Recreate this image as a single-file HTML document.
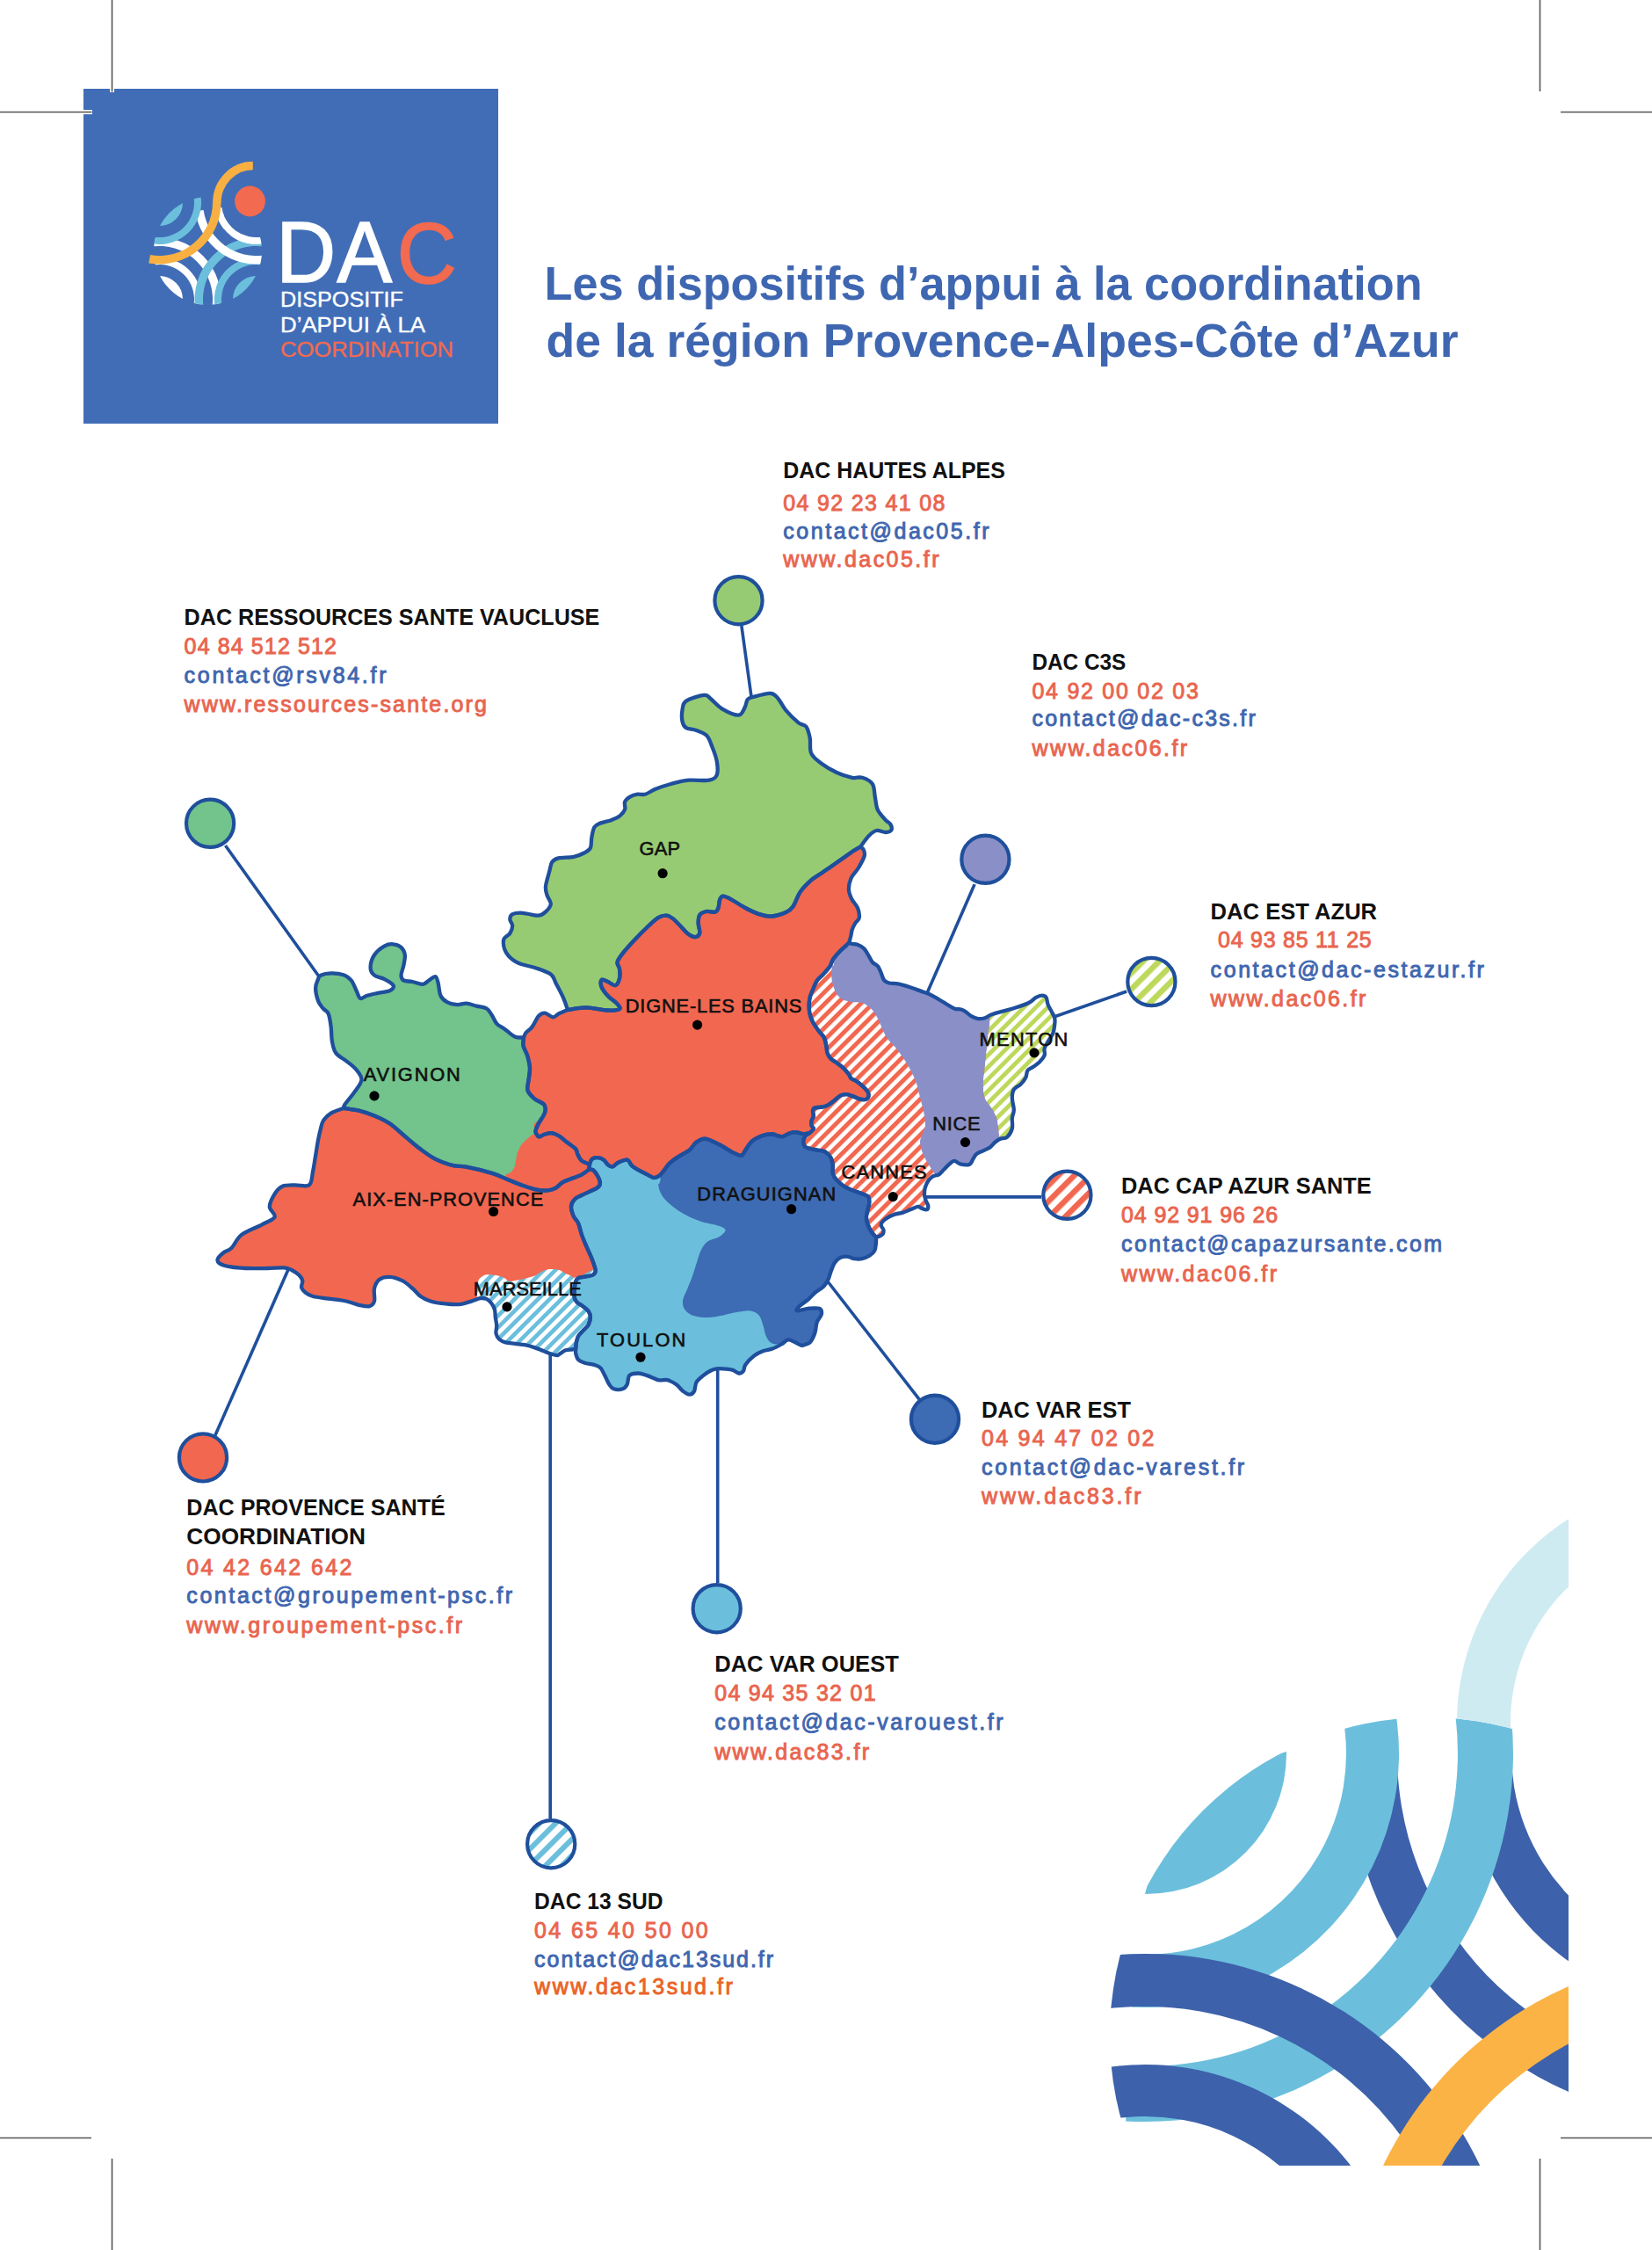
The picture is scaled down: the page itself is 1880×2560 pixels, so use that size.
<!DOCTYPE html>
<html><head><meta charset="utf-8"><title>DAC PACA</title>
<style>
html,body{margin:0;padding:0;background:#fff;}
body{width:1880px;height:2560px;position:relative;overflow:hidden;}
svg{position:absolute;left:0;top:0;}
text{font-family:"Liberation Sans",sans-serif;}
</style></head><body>
<svg width="1880" height="2560" viewBox="0 0 1880 2560">
<defs>
<pattern id="hCoral" patternUnits="userSpaceOnUse" width="9.6" height="9.6" patternTransform="rotate(45)"><rect width="9.6" height="9.6" fill="#fff"/><rect width="5.0" height="9.6" fill="#f26750"/></pattern>
<pattern id="hLime" patternUnits="userSpaceOnUse" width="9.6" height="9.6" patternTransform="rotate(45)"><rect width="9.6" height="9.6" fill="#fff"/><rect width="4.8" height="9.6" fill="#bdd85b"/></pattern>
<pattern id="hBlue" patternUnits="userSpaceOnUse" width="9.4" height="9.4" patternTransform="rotate(45)"><rect width="9.4" height="9.4" fill="#fff"/><rect width="4.7" height="9.4" fill="#6bbfdc"/></pattern>
<pattern id="cCoral" patternUnits="userSpaceOnUse" width="13" height="13" patternTransform="rotate(45)"><rect width="13" height="13" fill="#fff"/><rect width="6.5" height="13" fill="#f26750"/></pattern>
<pattern id="cLime" patternUnits="userSpaceOnUse" width="13" height="13" patternTransform="rotate(45)"><rect width="13" height="13" fill="#fff"/><rect width="6.5" height="13" fill="#bdd85b"/></pattern>
<pattern id="cBlue" patternUnits="userSpaceOnUse" width="13" height="13" patternTransform="rotate(45)"><rect width="13" height="13" fill="#fff"/><rect width="6" height="13" fill="#6bbfdc"/></pattern>

<clipPath id="clipVA"><path d="M391.1 1260.8C391.3 1260.1 390.6 1259.4 392.5 1256.5C394.4 1253.6 399.6 1248.0 402.7 1243.4C405.8 1238.8 410.9 1233.3 411.4 1228.9C411.9 1224.5 408.5 1220.8 405.6 1217.2C402.7 1213.6 397.9 1210.2 394.0 1207.1C390.1 1204.0 385.1 1202.0 382.4 1198.4C379.7 1194.8 379.0 1190.4 378.0 1185.3C377.0 1180.2 377.3 1173.1 376.6 1167.8C375.9 1162.5 375.2 1156.7 373.7 1153.3C372.2 1149.9 369.8 1149.9 367.8 1147.5C365.9 1145.1 363.4 1142.7 362.0 1138.8C360.6 1134.9 359.1 1128.4 359.1 1124.3C359.1 1120.2 361.0 1116.5 362.0 1114.1C363.0 1111.7 362.5 1110.8 364.9 1109.7C367.3 1108.6 372.2 1107.5 376.6 1107.4C381.0 1107.3 387.2 1107.9 391.1 1109.2C395.0 1110.5 397.4 1112.5 399.8 1115.5C402.2 1118.5 403.9 1123.8 405.6 1127.2C407.3 1130.6 408.1 1134.9 410.0 1135.9C411.9 1136.9 414.1 1134.0 417.2 1133.0C420.3 1132.0 424.5 1131.1 428.9 1130.1C433.3 1129.1 440.3 1128.7 443.4 1127.2C446.5 1125.8 448.7 1123.6 447.7 1121.4C446.7 1119.2 441.2 1116.0 437.6 1114.1C434.0 1112.1 428.7 1111.9 426.0 1109.7C423.3 1107.5 421.6 1104.9 421.6 1101.0C421.6 1097.1 423.3 1090.6 426.0 1086.5C428.7 1082.4 434.0 1078.3 437.6 1076.3C441.2 1074.3 444.6 1074.0 447.7 1074.3C450.8 1074.5 454.3 1075.8 456.5 1077.8C458.7 1079.8 460.3 1083.1 460.8 1086.5C461.3 1089.9 460.1 1094.2 459.4 1098.1C458.7 1102.0 456.5 1106.8 456.5 1109.7C456.5 1112.6 457.2 1114.3 459.4 1115.5C461.6 1116.7 465.9 1116.3 469.5 1117.0C473.1 1117.7 477.8 1120.4 481.2 1119.9C484.6 1119.4 487.5 1115.5 489.9 1114.1C492.3 1112.6 494.2 1110.5 495.7 1111.2C497.1 1111.9 497.6 1114.8 498.6 1118.4C499.6 1122.0 499.8 1129.4 501.5 1133.0C503.2 1136.6 505.7 1138.5 508.8 1140.2C511.9 1141.9 516.8 1142.8 520.4 1143.1C524.0 1143.3 527.0 1141.5 530.6 1141.7C534.2 1142.0 538.3 1143.6 542.2 1144.6C546.1 1145.6 550.9 1145.8 553.8 1147.5C556.7 1149.2 557.7 1151.9 559.6 1154.8C561.5 1157.7 563.0 1162.2 565.4 1164.9C567.8 1167.6 570.7 1168.3 574.1 1170.7C577.5 1173.1 582.1 1177.9 585.8 1179.5C589.4 1181.1 594.3 1180.3 596.0 1180.5C595.9 1182.1 594.9 1186.5 595.6 1190.0C596.3 1193.5 599.1 1197.2 600.3 1201.5C601.5 1205.8 602.8 1211.0 603.0 1215.6C603.2 1220.2 601.9 1225.1 601.5 1229.3C601.1 1233.5 599.4 1237.0 600.5 1240.5C601.6 1244.0 604.9 1247.2 608.0 1250.0C611.1 1252.8 617.3 1254.3 619.3 1257.0C621.3 1259.7 621.1 1262.3 620.0 1266.0C618.9 1269.7 614.2 1275.5 612.5 1279.0C610.8 1282.5 609.8 1285.0 609.5 1287.0C609.2 1289.0 610.8 1290.3 611.0 1291.0C611.4 1291.4 612.1 1293.4 613.5 1293.4C614.9 1293.4 616.9 1291.5 619.3 1290.8C621.7 1290.1 625.0 1288.9 627.8 1289.2C630.6 1289.5 633.5 1290.8 636.3 1292.5C639.1 1294.2 641.6 1296.9 644.7 1299.3C647.8 1301.7 652.8 1304.6 654.9 1307.0C657.0 1309.4 656.4 1311.5 657.5 1313.7C658.6 1316.0 659.9 1318.8 661.7 1320.5C663.5 1322.2 667.0 1323.2 668.5 1323.9C670.0 1324.6 670.6 1324.6 671.0 1324.7C670.9 1325.7 670.3 1329.7 670.2 1330.7C668.8 1331.7 664.5 1335.0 661.7 1336.6C658.9 1338.1 656.7 1338.6 653.2 1340.0C649.7 1341.4 644.0 1343.1 640.5 1345.1C637.0 1347.1 634.8 1350.4 632.0 1351.9C629.2 1353.5 627.1 1354.1 623.6 1354.4C620.1 1354.7 615.8 1354.6 610.8 1353.6C605.8 1352.6 599.5 1350.5 593.9 1348.5C588.3 1346.5 582.6 1344.0 577.0 1341.7C571.4 1339.4 567.7 1337.2 560.0 1334.9C552.3 1332.6 537.9 1329.0 530.6 1327.6C523.3 1326.1 521.8 1327.7 516.0 1326.2C510.2 1324.8 502.0 1322.1 495.7 1318.9C489.4 1315.8 484.1 1311.7 478.3 1307.3C472.5 1302.9 466.6 1297.6 460.8 1292.8C455.0 1288.0 449.2 1282.2 443.4 1278.3C437.6 1274.4 431.8 1271.9 426.0 1269.5C420.2 1267.1 414.3 1265.2 408.5 1263.7C402.7 1262.2 394.0 1261.3 391.1 1260.8Z"/></clipPath>
<clipPath id="clipVAR"><path d="M671.0 1324.7C671.4 1323.7 672.1 1320.1 673.6 1318.8C675.1 1317.5 678.0 1316.9 680.3 1317.1C682.5 1317.2 685.1 1318.3 687.1 1319.7C689.1 1321.1 690.5 1324.3 692.2 1325.6C693.9 1326.9 695.5 1327.7 697.3 1327.3C699.1 1326.9 700.3 1324.3 703.0 1323.0C705.7 1321.7 711.1 1319.2 713.7 1319.7C716.3 1320.2 716.7 1324.2 718.8 1326.1C720.9 1328.0 723.4 1329.5 726.4 1331.2C729.4 1332.9 733.6 1334.8 736.6 1336.3C739.6 1337.8 741.7 1340.1 744.2 1340.1C746.8 1340.1 748.9 1339.0 751.9 1336.3C754.9 1333.5 758.6 1327.0 762.0 1323.6C765.4 1320.2 768.4 1318.5 772.2 1315.9C776.0 1313.4 781.5 1311.0 784.9 1308.3C788.3 1305.5 789.5 1301.5 792.5 1299.4C795.5 1297.3 798.5 1295.2 802.7 1295.6C807.0 1296.0 812.9 1299.5 818.0 1302.0C823.1 1304.5 829.0 1308.7 833.2 1310.8C837.4 1312.9 840.9 1315.1 843.4 1314.7C845.9 1314.3 846.4 1311.1 848.5 1308.3C850.6 1305.5 852.7 1300.8 856.1 1298.1C859.5 1295.3 865.0 1293.1 868.8 1291.8C872.6 1290.5 876.2 1290.4 879.0 1290.5C881.8 1290.6 883.8 1292.0 885.8 1292.4C887.8 1292.8 888.8 1293.6 890.9 1293.1C893.0 1292.6 895.8 1290.3 898.2 1289.5C900.6 1288.7 902.6 1288.0 905.4 1288.1C908.2 1288.2 912.3 1290.0 914.9 1290.2C917.5 1290.4 919.7 1289.6 920.7 1289.5C920.0 1290.1 917.4 1291.5 916.3 1293.1C915.2 1294.7 914.1 1297.0 914.1 1299.0C914.1 1301.0 915.0 1303.5 916.3 1304.8C917.6 1306.1 919.8 1306.4 922.1 1307.0C924.4 1307.6 927.3 1308.0 930.0 1308.5C932.7 1309.0 936.0 1308.8 938.5 1310.2C941.0 1311.6 943.8 1314.4 945.3 1316.9C946.8 1319.4 947.4 1322.3 947.8 1325.4C948.2 1328.5 947.1 1332.8 947.8 1335.6C948.5 1338.4 950.0 1340.1 952.0 1342.4C954.0 1344.7 957.0 1347.4 959.7 1349.2C962.4 1351.0 964.9 1352.0 968.1 1353.4C971.4 1354.8 976.0 1356.3 979.2 1357.6C982.5 1358.9 985.9 1359.3 987.6 1361.0C989.3 1362.7 989.3 1365.2 989.3 1367.8C989.3 1370.3 988.2 1373.5 987.6 1376.3C987.0 1379.1 985.9 1381.9 985.9 1384.7C985.9 1387.5 986.6 1390.4 987.6 1393.2C988.6 1396.0 990.3 1399.3 991.9 1401.7C993.5 1404.1 996.1 1406.6 997.0 1407.6C997.0 1408.7 997.2 1411.9 996.9 1414.4C996.6 1417.0 996.6 1420.5 995.3 1422.9C994.0 1425.3 991.7 1427.2 989.3 1428.8C986.9 1430.3 983.6 1431.6 980.8 1432.2C978.0 1432.8 975.2 1432.6 972.4 1432.2C969.6 1431.8 966.7 1429.8 963.9 1429.7C961.1 1429.6 957.8 1430.1 955.4 1431.4C953.0 1432.7 951.2 1434.5 949.5 1437.3C947.8 1440.1 946.3 1445.0 945.1 1448.1C943.9 1451.2 943.8 1453.2 942.5 1455.8C941.2 1458.3 940.0 1460.9 937.5 1463.4C935.0 1465.9 930.3 1468.5 927.3 1471.0C924.3 1473.5 922.7 1476.0 919.7 1478.6C916.7 1481.1 911.6 1484.2 909.5 1486.3C907.4 1488.4 905.3 1491.0 907.0 1491.4C908.7 1491.8 915.5 1489.2 919.7 1488.8C923.9 1488.4 929.9 1487.7 932.4 1488.8C934.9 1489.9 935.3 1492.7 934.9 1495.2C934.5 1497.8 931.1 1500.5 929.8 1504.1C928.5 1507.7 928.6 1513.0 927.3 1516.8C926.0 1520.6 923.9 1524.9 922.2 1527.0C920.5 1529.1 918.8 1528.9 917.1 1529.5C915.4 1530.1 914.1 1531.2 912.0 1530.8C909.9 1530.4 906.9 1528.1 904.4 1527.0C901.9 1525.9 899.3 1524.0 896.8 1524.4C894.3 1524.8 892.2 1527.8 889.2 1529.5C886.2 1531.2 882.4 1533.3 879.0 1534.6C875.6 1535.9 872.2 1535.8 868.8 1537.1C865.4 1538.4 862.0 1539.7 858.6 1542.2C855.2 1544.8 850.6 1549.4 848.5 1552.4C846.4 1555.4 847.2 1558.3 845.9 1560.0C844.6 1561.7 842.9 1562.7 840.8 1562.5C838.7 1562.3 836.2 1559.5 833.2 1558.7C830.2 1557.9 826.0 1557.6 823.0 1557.4C820.0 1557.2 817.9 1557.0 815.4 1557.4C812.9 1557.8 810.3 1558.7 807.8 1560.0C805.3 1561.3 802.8 1563.0 800.2 1565.1C797.7 1567.2 794.2 1569.7 792.5 1572.7C790.8 1575.7 791.3 1580.6 790.0 1582.9C788.7 1585.2 787.0 1586.7 784.9 1586.7C782.8 1586.7 779.8 1584.8 777.3 1582.9C774.8 1581.0 772.7 1577.4 769.7 1575.3C766.7 1573.2 762.9 1571.0 759.5 1570.2C756.1 1569.4 753.1 1571.1 749.3 1570.2C745.5 1569.3 740.4 1566.4 736.6 1565.1C732.8 1563.8 729.8 1562.5 726.4 1562.5C723.0 1562.5 718.4 1563.0 716.3 1565.1C714.2 1567.2 715.0 1572.8 713.7 1575.3C712.4 1577.8 711.1 1579.5 708.6 1580.3C706.1 1581.1 701.0 1581.1 698.5 1580.3C696.0 1579.5 695.1 1577.8 693.4 1575.3C691.7 1572.8 689.9 1568.2 688.3 1565.1C686.6 1561.9 685.5 1558.4 683.5 1556.4C681.5 1554.4 679.3 1553.9 676.3 1552.9C673.3 1552.0 668.4 1551.7 665.4 1550.7C662.4 1549.7 659.8 1548.9 658.1 1547.1C656.4 1545.3 655.7 1542.0 655.2 1539.9C654.7 1537.9 655.2 1535.7 655.2 1534.8C655.3 1533.6 655.4 1529.9 655.9 1527.5C656.4 1525.1 656.8 1522.5 658.1 1520.2C659.4 1517.9 662.0 1515.9 663.9 1513.7C665.8 1511.5 668.4 1509.8 669.7 1507.2C671.0 1504.7 671.9 1501.0 671.9 1498.4C671.9 1495.9 671.2 1494.0 669.7 1491.9C668.2 1489.9 665.4 1487.8 663.2 1486.1C661.0 1484.4 658.3 1483.3 656.7 1481.7C655.1 1480.1 654.3 1479.1 653.8 1476.7C653.3 1474.3 653.6 1470.4 653.8 1467.2C654.0 1464.0 654.5 1460.0 655.2 1457.8C655.9 1455.6 656.4 1454.9 658.1 1454.1C659.8 1453.2 662.6 1453.3 665.4 1452.7C668.2 1452.1 672.8 1451.7 674.8 1450.5C676.8 1449.3 677.9 1448.5 677.7 1445.4C677.5 1442.3 675.2 1436.5 673.5 1432.0C671.8 1427.5 669.4 1423.0 667.5 1418.5C665.6 1414.0 663.6 1409.4 662.0 1404.9C660.4 1400.4 659.6 1395.1 658.0 1391.5C656.4 1387.9 653.9 1386.7 652.6 1383.5C651.3 1380.3 649.8 1375.7 650.0 1372.5C650.2 1369.3 652.0 1366.6 654.0 1364.5C656.0 1362.4 659.0 1361.4 661.7 1360.0C664.4 1358.6 667.1 1357.6 670.2 1356.1C673.3 1354.6 678.2 1352.7 680.3 1351.0C682.4 1349.3 682.9 1348.0 682.9 1345.9C682.9 1343.8 681.6 1340.7 680.3 1338.3C679.0 1335.9 677.0 1332.8 675.3 1331.5C673.6 1330.2 671.1 1330.8 670.2 1330.7C670.3 1329.7 670.9 1325.7 671.0 1324.7Z"/></clipPath>
<clipPath id="clipAM"><path d="M920.7 1289.5C921.6 1288.7 925.3 1285.9 925.8 1284.4C926.3 1283.0 924.0 1282.4 923.6 1280.8C923.2 1279.2 923.2 1276.8 923.6 1275.0C924.0 1273.2 925.6 1271.7 925.8 1269.9C926.0 1268.1 924.8 1265.7 925.0 1264.1C925.2 1262.5 925.6 1261.2 927.2 1260.5C928.8 1259.8 932.1 1260.2 934.5 1259.7C936.9 1259.2 939.3 1258.8 941.7 1257.6C944.1 1256.4 946.6 1254.3 949.0 1252.5C951.4 1250.7 953.9 1247.9 956.3 1246.7C958.7 1245.5 961.1 1245.1 963.5 1245.2C965.9 1245.3 968.4 1246.6 970.8 1247.4C973.2 1248.2 975.8 1249.7 978.1 1250.3C980.4 1250.9 982.9 1251.4 984.6 1251.0C986.3 1250.6 987.7 1249.5 988.2 1248.1C988.7 1246.6 988.6 1244.3 987.5 1242.3C986.4 1240.2 983.9 1237.8 981.7 1235.8C979.5 1233.8 976.6 1231.5 974.4 1230.0C972.2 1228.5 970.0 1228.3 968.6 1227.0C967.2 1225.7 967.2 1223.9 965.7 1222.0C964.2 1220.1 962.1 1217.5 959.9 1215.4C957.7 1213.3 955.0 1211.4 952.6 1209.6C950.2 1207.8 947.2 1206.4 945.4 1204.5C943.5 1202.6 942.3 1200.2 941.5 1198.0C940.7 1195.8 941.1 1193.9 940.5 1191.0C939.9 1188.1 939.3 1183.6 937.9 1180.7C936.5 1177.8 934.3 1176.5 932.1 1173.5C929.9 1170.5 926.7 1166.2 924.9 1162.6C923.1 1159.0 921.8 1155.9 921.2 1151.7C920.6 1147.5 920.6 1141.4 921.2 1137.2C921.8 1133.0 923.4 1129.9 924.9 1126.3C926.4 1122.7 928.0 1118.4 930.0 1115.4C932.0 1112.4 934.8 1110.8 937.2 1108.1C939.6 1105.4 942.7 1102.2 944.5 1099.4C946.3 1096.6 946.3 1094.2 948.1 1091.4C949.9 1088.6 953.0 1085.2 955.4 1082.7C957.8 1080.2 960.8 1077.8 962.6 1076.1C964.4 1074.4 965.7 1073.1 966.3 1072.5C966.9 1072.8 968.3 1073.6 969.9 1074.0C971.5 1074.4 973.5 1073.9 975.7 1074.7C977.9 1075.5 980.8 1076.9 983.0 1079.1C985.2 1081.3 987.1 1085.1 988.8 1087.8C990.5 1090.5 991.4 1093.1 993.1 1095.0C994.8 1096.9 997.4 1097.5 999.0 1099.4C1000.6 1101.4 1001.4 1104.0 1002.6 1106.7C1003.8 1109.4 1004.6 1113.4 1006.2 1115.4C1007.8 1117.4 1009.4 1117.8 1012.0 1118.5C1014.6 1119.2 1018.1 1118.6 1022.0 1119.4C1025.9 1120.2 1031.1 1121.8 1035.6 1123.3C1040.1 1124.8 1046.0 1127.0 1049.2 1128.1C1052.4 1129.2 1052.4 1129.0 1055.0 1130.1C1057.6 1131.2 1061.4 1133.1 1064.6 1134.9C1067.8 1136.7 1070.7 1138.6 1074.3 1140.7C1077.9 1142.8 1082.8 1146.2 1086.0 1147.5C1089.2 1148.8 1091.5 1147.8 1093.7 1148.5C1096.0 1149.2 1097.6 1150.1 1099.5 1151.4C1101.4 1152.7 1103.0 1154.9 1105.3 1156.2C1107.6 1157.5 1110.5 1158.8 1113.1 1159.1C1115.7 1159.4 1118.2 1159.0 1120.8 1158.2C1123.4 1157.4 1125.0 1155.6 1128.6 1154.3C1132.1 1153.0 1137.6 1151.7 1142.1 1150.4C1146.6 1149.1 1150.8 1148.1 1155.7 1146.5C1160.6 1144.9 1167.3 1142.6 1171.2 1140.7C1175.1 1138.8 1176.5 1136.2 1178.9 1134.9C1181.3 1133.6 1183.8 1132.6 1185.7 1132.6C1187.7 1132.6 1189.5 1133.2 1190.6 1134.9C1191.7 1136.6 1191.5 1140.1 1192.5 1142.7C1193.5 1145.3 1195.1 1147.8 1196.4 1150.4C1197.7 1153.0 1199.6 1155.6 1200.2 1158.2C1200.8 1160.8 1200.5 1163.0 1200.2 1165.9C1199.9 1168.8 1199.6 1172.4 1198.3 1175.6C1197.0 1178.8 1194.1 1182.4 1192.5 1185.3C1190.9 1188.2 1189.2 1190.4 1188.6 1193.0C1187.9 1195.6 1189.6 1198.2 1188.6 1200.8C1187.6 1203.4 1185.0 1206.2 1182.8 1208.5C1180.5 1210.8 1177.3 1212.7 1175.1 1214.3C1172.8 1215.9 1170.6 1216.2 1169.3 1218.2C1168.0 1220.2 1168.6 1223.4 1167.3 1226.0C1166.0 1228.6 1163.8 1231.5 1161.5 1233.7C1159.2 1236.0 1155.4 1236.9 1153.8 1239.5C1152.2 1242.1 1151.8 1245.3 1151.8 1249.2C1151.8 1253.1 1153.8 1258.9 1153.8 1262.8C1153.8 1266.7 1152.1 1268.9 1151.8 1272.4C1151.5 1276.0 1152.8 1280.5 1151.8 1284.1C1150.8 1287.7 1148.2 1291.9 1146.0 1293.8C1143.8 1295.7 1140.6 1294.7 1138.3 1295.7C1136.0 1296.7 1134.4 1298.0 1132.4 1299.6C1130.5 1301.2 1128.8 1303.8 1126.6 1305.4C1124.3 1307.0 1121.5 1308.0 1118.9 1309.3C1116.3 1310.6 1113.0 1311.5 1111.1 1313.1C1109.2 1314.7 1108.6 1317.0 1107.3 1318.9C1106.0 1320.8 1105.7 1323.7 1103.4 1324.7C1101.1 1325.7 1096.6 1325.3 1093.7 1324.7C1090.8 1324.1 1088.3 1320.9 1086.0 1320.9C1083.7 1320.9 1082.0 1323.1 1080.1 1324.7C1078.1 1326.3 1076.2 1328.6 1074.3 1330.6C1072.4 1332.5 1070.5 1335.2 1068.5 1336.4C1066.5 1337.7 1064.1 1337.1 1062.2 1338.1C1060.3 1339.1 1058.6 1340.3 1057.1 1342.4C1055.5 1344.5 1053.8 1348.0 1052.9 1350.8C1052.1 1353.6 1051.9 1356.8 1052.0 1359.3C1052.1 1361.8 1053.0 1364.0 1053.7 1366.1C1054.4 1368.2 1056.2 1370.3 1056.3 1372.0C1056.4 1373.7 1055.9 1375.9 1054.6 1376.3C1053.3 1376.7 1050.3 1375.2 1048.6 1374.6C1046.9 1374.0 1046.5 1372.6 1044.4 1372.9C1042.3 1373.2 1038.7 1375.2 1035.9 1376.3C1033.1 1377.4 1030.3 1378.8 1027.5 1379.7C1024.7 1380.6 1022.0 1380.4 1019.0 1381.4C1016.0 1382.4 1012.2 1384.0 1009.7 1385.6C1007.2 1387.1 1004.8 1389.2 1003.7 1390.7C1002.6 1392.2 1002.6 1393.5 1002.9 1394.9C1003.2 1396.3 1005.1 1397.7 1005.4 1399.2C1005.7 1400.8 1005.5 1402.9 1004.6 1404.2C1003.8 1405.5 1001.6 1406.2 1000.3 1406.8C999.0 1407.4 997.5 1407.5 997.0 1407.6C996.1 1406.6 993.5 1404.1 991.9 1401.7C990.3 1399.3 988.6 1396.0 987.6 1393.2C986.6 1390.4 985.9 1387.5 985.9 1384.7C985.9 1381.9 987.0 1379.1 987.6 1376.3C988.2 1373.5 989.3 1370.3 989.3 1367.8C989.3 1365.2 989.3 1362.7 987.6 1361.0C985.9 1359.3 982.5 1358.9 979.2 1357.6C976.0 1356.3 971.4 1354.8 968.1 1353.4C964.9 1352.0 962.4 1351.0 959.7 1349.2C957.0 1347.4 954.0 1344.7 952.0 1342.4C950.0 1340.1 948.5 1338.4 947.8 1335.6C947.1 1332.8 948.2 1328.5 947.8 1325.4C947.4 1322.3 946.8 1319.4 945.3 1316.9C943.8 1314.4 941.0 1311.6 938.5 1310.2C936.0 1308.8 932.7 1309.0 930.0 1308.5C927.3 1308.0 924.4 1307.6 922.1 1307.0C919.8 1306.4 917.6 1306.1 916.3 1304.8C915.0 1303.5 914.1 1301.0 914.1 1299.0C914.1 1297.0 915.2 1294.7 916.3 1293.1C917.4 1291.5 920.0 1290.1 920.7 1289.5Z"/></clipPath>
<clipPath id="clipBDR"><path d="M391.1 1260.8C394.0 1261.3 402.7 1262.2 408.5 1263.7C414.3 1265.2 420.2 1267.1 426.0 1269.5C431.8 1271.9 437.6 1274.4 443.4 1278.3C449.2 1282.2 455.0 1288.0 460.8 1292.8C466.6 1297.6 472.5 1302.9 478.3 1307.3C484.1 1311.7 489.4 1315.8 495.7 1318.9C502.0 1322.1 510.2 1324.8 516.0 1326.2C521.8 1327.7 523.3 1326.1 530.6 1327.6C537.9 1329.0 552.3 1332.6 560.0 1334.9C567.7 1337.2 571.4 1339.4 577.0 1341.7C582.6 1344.0 588.3 1346.5 593.9 1348.5C599.5 1350.5 605.8 1352.6 610.8 1353.6C615.8 1354.6 620.1 1354.7 623.6 1354.4C627.1 1354.1 629.2 1353.5 632.0 1351.9C634.8 1350.4 637.0 1347.1 640.5 1345.1C644.0 1343.1 649.7 1341.4 653.2 1340.0C656.7 1338.6 658.9 1338.1 661.7 1336.6C664.5 1335.0 668.8 1331.7 670.2 1330.7C671.1 1330.8 673.6 1330.2 675.3 1331.5C677.0 1332.8 679.0 1335.9 680.3 1338.3C681.6 1340.7 682.9 1343.8 682.9 1345.9C682.9 1348.0 682.4 1349.3 680.3 1351.0C678.2 1352.7 673.3 1354.6 670.2 1356.1C667.1 1357.6 664.4 1358.6 661.7 1360.0C659.0 1361.4 656.0 1362.4 654.0 1364.5C652.0 1366.6 650.2 1369.3 650.0 1372.5C649.8 1375.7 651.3 1380.3 652.6 1383.5C653.9 1386.7 656.4 1387.9 658.0 1391.5C659.6 1395.1 660.4 1400.4 662.0 1404.9C663.6 1409.4 665.6 1414.0 667.5 1418.5C669.4 1423.0 671.8 1427.5 673.5 1432.0C675.2 1436.5 677.5 1442.3 677.7 1445.4C677.9 1448.5 676.8 1449.3 674.8 1450.5C672.8 1451.7 668.2 1452.1 665.4 1452.7C662.6 1453.3 659.8 1453.2 658.1 1454.1C656.4 1454.9 655.9 1455.6 655.2 1457.8C654.5 1460.0 654.0 1464.0 653.8 1467.2C653.6 1470.4 653.3 1474.3 653.8 1476.7C654.3 1479.1 655.1 1480.1 656.7 1481.7C658.3 1483.3 661.0 1484.4 663.2 1486.1C665.4 1487.8 668.2 1489.9 669.7 1491.9C671.2 1494.0 671.9 1495.9 671.9 1498.4C671.9 1501.0 671.0 1504.7 669.7 1507.2C668.4 1509.8 665.8 1511.5 663.9 1513.7C662.0 1515.9 659.4 1517.9 658.1 1520.2C656.8 1522.5 656.4 1525.1 655.9 1527.5C655.4 1529.9 655.3 1533.6 655.2 1534.8C654.5 1534.9 652.7 1535.3 650.8 1535.5C648.9 1535.7 645.8 1535.5 643.6 1536.2C641.4 1536.9 639.4 1538.9 637.8 1539.9C636.2 1540.9 635.8 1541.9 634.1 1542.0C632.4 1542.1 630.2 1541.4 627.6 1540.6C625.0 1539.8 621.5 1538.2 618.2 1537.0C615.0 1535.8 611.6 1534.2 608.1 1533.1C604.6 1532.0 600.8 1530.9 597.2 1530.2C593.6 1529.5 589.9 1529.3 586.3 1528.8C582.7 1528.3 578.4 1528.1 575.4 1527.3C572.4 1526.5 569.9 1525.4 568.1 1523.7C566.3 1522.0 565.0 1519.8 564.5 1517.2C564.0 1514.7 565.3 1511.4 565.2 1508.4C565.1 1505.4 564.2 1502.0 563.8 1499.0C563.4 1496.0 563.7 1493.0 563.0 1490.3C562.3 1487.6 561.0 1485.1 559.4 1483.0C557.8 1480.9 555.8 1478.9 553.6 1477.9C551.4 1476.9 549.0 1476.8 546.3 1477.2C543.6 1477.6 541.2 1479.0 537.6 1480.1C534.0 1481.2 529.5 1483.2 524.5 1483.8C519.5 1484.3 513.1 1484.0 507.3 1483.4C501.5 1482.9 494.7 1482.0 489.9 1480.5C485.1 1479.0 481.7 1477.1 478.3 1474.7C474.9 1472.3 472.9 1468.9 469.5 1466.0C466.1 1463.1 462.2 1459.4 457.9 1457.2C453.5 1455.0 447.8 1453.1 443.4 1452.9C439.0 1452.7 434.7 1453.6 431.8 1455.8C428.9 1458.0 427.0 1461.9 426.0 1466.0C425.0 1470.1 427.0 1477.1 426.0 1480.5C425.0 1483.9 423.0 1485.6 420.1 1486.3C417.2 1487.0 412.9 1485.8 408.5 1484.8C404.1 1483.8 399.8 1481.7 394.0 1480.5C388.2 1479.3 380.0 1478.5 373.7 1477.6C367.4 1476.7 360.5 1476.1 356.2 1475.0C351.9 1473.9 350.3 1472.7 348.1 1471.0C345.9 1469.3 343.7 1467.1 343.1 1464.8C342.5 1462.5 344.7 1459.6 344.3 1457.3C343.9 1455.0 342.7 1453.1 340.6 1451.1C338.5 1449.0 334.8 1446.5 331.9 1445.0C329.0 1443.5 327.8 1442.7 323.2 1442.4C318.6 1442.1 311.8 1442.9 304.5 1443.0C297.2 1443.1 286.9 1443.3 279.6 1443.0C272.3 1442.7 265.9 1442.1 260.9 1441.2C255.9 1440.3 251.9 1438.9 249.7 1437.4C247.5 1435.9 247.0 1434.5 247.8 1432.4C248.6 1430.3 252.1 1427.1 254.7 1425.0C257.3 1422.9 260.0 1423.3 263.4 1420.0C266.8 1416.7 269.1 1409.4 274.9 1404.9C280.7 1400.5 291.8 1396.7 298.1 1393.3C304.4 1389.9 311.2 1388.0 312.6 1384.6C314.1 1381.2 306.8 1377.4 306.8 1373.0C306.8 1368.6 310.2 1362.3 312.6 1358.4C315.0 1354.5 317.5 1351.4 321.4 1349.7C325.3 1348.0 330.8 1348.5 335.9 1348.3C341.0 1348.1 348.5 1351.0 351.9 1348.3C355.3 1345.6 355.0 1337.9 356.2 1332.3C357.4 1326.7 358.1 1320.7 359.1 1314.9C360.1 1309.1 361.0 1302.5 362.0 1297.4C363.0 1292.3 363.9 1288.1 364.9 1284.4C365.9 1280.7 365.9 1278.3 367.8 1275.3C369.8 1272.3 372.7 1269.0 376.6 1266.6C380.5 1264.2 388.7 1261.8 391.1 1260.8Z"/></clipPath>
<clipPath id="decoClip"><circle cx="1625" cy="2316" r="362"/></clipPath>
<clipPath id="decoRect"><rect x="1200" y="1700" width="585" height="764"/></clipPath>
<mask id="decoOut"><rect x="1200" y="1600" width="700" height="900" fill="#fff"/><circle cx="1625" cy="2316" r="362" fill="#000"/></mask>
</defs>
<g stroke="#555" stroke-width="1.6" fill="none">
<line x1="127.5" y1="0" x2="127.5" y2="104"/><line x1="0" y1="127.5" x2="104" y2="127.5"/>
<line x1="1752.5" y1="0" x2="1752.5" y2="104"/><line x1="1776" y1="127.5" x2="1880" y2="127.5"/>
<line x1="0" y1="2432.5" x2="104" y2="2432.5"/><line x1="127.5" y1="2456" x2="127.5" y2="2560"/>
<line x1="1776" y1="2432.5" x2="1880" y2="2432.5"/><line x1="1752.5" y1="2456" x2="1752.5" y2="2560"/>
</g>
<rect x="95" y="101" width="472" height="381" fill="#416db7"/>
<rect x="125" y="101" width="5" height="4" fill="#fff"/><line x1="127.5" y1="101" x2="127.5" y2="104.5" stroke="#555" stroke-width="1.6"/>
<rect x="95" y="125" width="10" height="5" fill="#fff"/><line x1="95" y1="127.5" x2="104.5" y2="127.5" stroke="#555" stroke-width="1.6"/>
<defs><clipPath id="globe"><circle cx="236.5" cy="285.5" r="61.5"/></clipPath></defs>
<g clip-path="url(#globe)"><path d="M181.50 314.00 A26.50 26.50 0 0 1 208.00 340.50 A36.12 36.12 0 0 1 181.50 314.00 Z" fill="#ffffff"/><path d="M173.3 293.7 A47.5 47.5 0 0 1 228.3 348.7 L220.4 347.4 A39.5 39.5 0 0 0 174.6 301.6 Z" fill="#ffffff"/><path d="M169.3 271.6 A70.0 70.0 0 0 1 250.4 352.7 L241.1 351.0 A60.5 60.5 0 0 0 171.0 280.9 Z" fill="#ffffff"/><path d="M265.00 340.50 A26.50 26.50 0 0 1 291.50 314.00 A36.12 36.12 0 0 1 265.00 340.50 Z" fill="#6bbfdc"/><path d="M244.7 348.7 A47.5 47.5 0 0 1 299.7 293.7 L298.4 301.6 A39.5 39.5 0 0 0 252.6 347.4 Z" fill="#6bbfdc"/><path d="M222.6 352.7 A70.0 70.0 0 0 1 303.7 271.6 L302.0 280.9 A60.5 60.5 0 0 0 231.9 351.0 Z" fill="#6bbfdc"/><path d="M299.7 277.3 A47.5 47.5 0 0 1 244.5 237.1 L252.4 236.0 A39.5 39.5 0 0 0 298.4 269.4 Z" fill="#ffffff"/><path d="M303.7 299.4 A70.0 70.0 0 0 1 222.2 240.2 L231.6 238.9 A60.5 60.5 0 0 0 302.0 290.1 Z" fill="#ffffff"/><path d="M208.00 230.50 A26.50 26.50 0 0 1 181.50 257.00 A36.12 36.12 0 0 1 208.00 230.50 Z" fill="#6bbfdc"/><path d="M228.3 222.3 A47.5 47.5 0 0 1 173.3 277.3 L174.6 269.4 A39.5 39.5 0 0 0 220.4 223.6 Z" fill="#6bbfdc"/></g>
<path d="M251.5 230.5 A70.0 70.0 0 0 1 169.3 299.4 L171.0 290.1 A60.5 60.5 0 0 0 242.0 230.5 Z" fill="#f9b042"/>
<path d="M246.8 231.0 A41 42.4 0 0 1 287.8 188.6" fill="none" stroke="#f9b042" stroke-width="9.5"/>
<circle cx="284.5" cy="229" r="17.4" fill="#f26a4f"/>
<g font-size="94" stroke-width="1.5" text-anchor="middle">
<text transform="translate(348.2 321.2) scale(1 1.055)" fill="#fff" stroke="#fff">D</text>
<text transform="translate(414.9 321.2) scale(1 1.055)" fill="#fff" stroke="#fff">A</text>
<text transform="translate(485.8 321.8) scale(1 1.055)" fill="#f26a4f" stroke="#f26a4f">C</text>
</g>
<g font-size="23.8" stroke-width="0.35">
<text x="319" y="349.4" fill="#fff" stroke="#fff" textLength="140" lengthAdjust="spacingAndGlyphs">DISPOSITIF</text>
<text x="319" y="378" fill="#fff" stroke="#fff" textLength="165" lengthAdjust="spacingAndGlyphs">D’APPUI À LA</text>
<text x="319" y="406.4" fill="#f26a4f" stroke="#f26a4f" textLength="197" lengthAdjust="spacingAndGlyphs">COORDINATION</text>
</g>
<text x="619.6" y="340.5" font-size="53.5" font-weight="bold" fill="#3f67b1" textLength="999" lengthAdjust="spacingAndGlyphs">Les dispositifs d’appui à la coordination</text>
<text x="621.6" y="406" font-size="53.5" font-weight="bold" fill="#3f67b1" textLength="1038" lengthAdjust="spacingAndGlyphs">de la région Provence-Alpes-Côte d’Azur</text>
<line x1="843.9" y1="712.1" x2="856.0" y2="800.0" stroke="#1f4f9c" stroke-width="3.6"/>
<line x1="256.5" y1="962.0" x2="368.0" y2="1118.0" stroke="#1f4f9c" stroke-width="3.6"/>
<line x1="1109.1" y1="1006.1" x2="1055.0" y2="1130.0" stroke="#1f4f9c" stroke-width="3.6"/>
<line x1="1282.2" y1="1128.0" x2="1196.5" y2="1158.0" stroke="#1f4f9c" stroke-width="3.6"/>
<line x1="1185.2" y1="1361.9" x2="1053.3" y2="1361.9" stroke="#1f4f9c" stroke-width="3.6"/>
<line x1="1046.3" y1="1592.3" x2="942.3" y2="1458.5" stroke="#1f4f9c" stroke-width="3.6"/>
<line x1="816.7" y1="1801.0" x2="816.7" y2="1555.0" stroke="#1f4f9c" stroke-width="3.6"/>
<line x1="626.2" y1="2069.6" x2="626.2" y2="1535.0" stroke="#1f4f9c" stroke-width="3.6"/>
<line x1="244.7" y1="1633.5" x2="328.1" y2="1444.3" stroke="#1f4f9c" stroke-width="3.6"/>
<path d="M646.0 1149.0C645.2 1146.8 643.6 1141.1 641.4 1136.1C639.2 1131.0 635.0 1123.3 632.6 1118.7C630.2 1114.1 630.7 1111.4 626.8 1108.5C622.9 1105.6 615.7 1103.4 609.4 1101.2C603.1 1099.0 594.7 1098.3 589.1 1095.4C583.5 1092.5 578.7 1088.2 576.0 1083.8C573.3 1079.4 572.4 1072.9 573.1 1069.3C573.8 1065.7 578.6 1064.7 580.3 1062.0C582.0 1059.3 583.2 1056.0 583.2 1053.3C583.2 1050.6 580.3 1048.2 580.3 1046.0C580.3 1043.8 580.8 1041.4 583.2 1040.2C585.6 1039.0 590.0 1038.5 594.9 1038.8C599.8 1039.0 607.9 1042.0 612.3 1041.7C616.6 1041.5 618.6 1039.5 621.0 1037.3C623.4 1035.1 626.5 1031.8 626.8 1028.6C627.0 1025.4 623.5 1021.8 622.5 1018.4C621.5 1015.0 620.5 1012.9 621.0 1008.3C621.5 1003.7 624.2 995.4 625.4 990.8C626.6 986.2 626.6 983.1 628.3 980.7C630.0 978.3 631.4 977.3 635.5 976.3C639.6 975.3 648.1 975.8 653.0 974.8C657.9 973.8 661.5 972.2 664.6 970.5C667.8 968.8 670.5 967.6 671.9 964.7C673.3 961.8 672.6 956.9 673.3 953.0C674.0 949.1 674.8 944.0 676.2 941.4C677.7 938.8 678.6 938.5 682.0 937.1C685.4 935.7 692.7 934.2 696.6 932.7C700.5 931.2 702.9 930.3 705.3 928.4C707.7 926.5 710.1 923.8 711.1 921.1C712.1 918.4 710.1 914.8 711.1 912.4C712.1 910.0 714.5 908.0 716.9 906.6C719.3 905.2 722.7 904.2 725.6 903.7C728.5 903.2 730.9 904.7 734.3 903.7C737.7 902.7 741.1 899.8 746.0 897.8C750.9 895.8 757.1 893.7 763.4 892.0C769.7 890.3 776.4 888.4 783.7 887.7C791.0 887.0 801.7 888.7 807.0 887.7C812.3 886.7 814.2 885.5 815.7 881.9C817.2 878.3 816.7 871.5 815.7 865.9C814.7 860.3 811.8 853.2 809.9 848.4C808.0 843.5 807.0 839.7 804.1 836.8C801.2 833.9 796.3 832.5 792.4 831.0C788.5 829.5 783.4 829.8 780.8 828.1C778.1 826.4 777.2 824.2 776.5 820.8C775.8 817.4 775.8 811.7 776.5 807.8C777.2 803.9 776.7 800.4 780.8 797.6C784.9 794.8 796.6 791.4 801.2 790.9C805.8 790.4 805.0 792.1 808.4 794.7C811.8 797.3 816.2 803.1 821.5 806.3C826.8 809.4 836.0 813.8 840.4 813.6C844.8 813.4 845.9 807.8 847.6 804.9C849.3 802.0 849.1 798.0 850.6 796.1C852.1 794.2 852.0 794.4 856.4 793.2C860.8 792.0 871.9 788.6 876.7 788.9C881.5 789.1 882.5 791.6 885.4 794.7C888.3 797.9 890.2 803.2 894.1 807.8C898.0 812.4 904.8 819.1 908.7 822.3C912.6 825.4 915.2 823.8 917.4 826.7C919.6 829.6 920.7 834.6 921.7 839.7C922.7 844.8 921.0 852.4 923.2 857.2C925.4 862.1 930.0 865.2 934.8 868.8C939.6 872.4 946.4 876.3 952.2 879.0C958.0 881.7 964.9 883.8 969.7 884.8C974.6 885.8 977.4 883.6 981.3 884.8C985.2 886.0 990.5 888.4 992.9 892.0C995.3 895.6 994.8 901.8 995.8 906.6C996.8 911.5 996.8 916.8 998.7 921.1C1000.7 925.5 1005.0 929.9 1007.5 932.7C1010.0 935.5 1012.4 936.1 1013.5 938.1C1014.6 940.1 1015.2 943.0 1014.3 944.5C1013.4 946.0 1010.8 946.9 1008.0 947.0C1005.2 947.1 1000.6 944.4 997.4 945.0C994.2 945.6 992.1 947.7 989.0 950.8C985.9 953.9 980.7 961.4 979.0 963.5C977.5 964.4 974.5 965.9 970.2 968.8C965.9 971.7 958.9 976.8 953.2 980.7C947.6 984.7 941.2 989.1 936.3 992.5C931.4 995.9 927.9 997.3 923.6 1001.0C919.4 1004.7 914.3 1009.5 910.8 1014.6C907.3 1019.7 905.2 1027.5 902.4 1031.5C899.6 1035.5 898.0 1036.5 893.9 1038.3C889.8 1040.1 883.0 1042.2 878.0 1042.5C873.0 1042.8 868.9 1041.7 863.9 1040.1C858.9 1038.5 853.4 1035.8 848.2 1033.0C843.0 1030.2 836.7 1025.8 832.5 1023.6C828.3 1021.4 825.2 1019.7 823.0 1019.7C820.8 1019.7 820.0 1021.4 819.1 1023.6C818.2 1025.8 818.4 1030.6 817.5 1033.0C816.6 1035.4 815.8 1037.1 813.6 1037.8C811.4 1038.5 807.0 1036.5 804.1 1037.0C801.2 1037.5 797.9 1038.7 796.3 1040.9C794.7 1043.1 794.7 1047.0 794.7 1050.4C794.7 1053.8 796.8 1058.8 796.3 1061.4C795.8 1064.0 793.6 1065.8 791.5 1066.1C789.4 1066.4 786.6 1065.1 783.7 1063.0C780.8 1060.9 777.1 1056.4 774.2 1053.5C771.3 1050.6 769.0 1047.6 766.4 1045.6C763.8 1043.6 761.4 1042.0 758.5 1041.7C755.6 1041.5 752.4 1042.1 749.0 1044.1C745.6 1046.1 742.5 1049.3 738.0 1053.5C733.5 1057.7 727.0 1064.2 722.3 1069.2C717.6 1074.2 713.0 1079.2 709.7 1083.4C706.4 1087.6 703.4 1091.2 702.6 1094.4C701.8 1097.6 704.6 1099.2 705.0 1102.3C705.4 1105.4 705.8 1110.1 705.0 1113.3C704.2 1116.5 702.7 1120.7 700.3 1121.2C697.9 1121.7 693.4 1117.5 690.8 1116.5C688.2 1115.5 685.5 1113.9 684.5 1114.9C683.5 1116.0 683.2 1119.7 684.5 1122.8C685.8 1125.9 689.5 1130.7 692.4 1133.8C695.3 1136.9 699.7 1139.2 701.8 1141.6C703.9 1143.9 706.8 1146.6 705.0 1147.9C703.2 1149.2 697.1 1149.8 690.8 1149.5C684.5 1149.2 674.7 1146.5 667.2 1146.4C659.7 1146.3 649.5 1148.6 646.0 1149.0Z" fill="#97cb73"/>
<path d="M391.1 1260.8C391.3 1260.1 390.6 1259.4 392.5 1256.5C394.4 1253.6 399.6 1248.0 402.7 1243.4C405.8 1238.8 410.9 1233.3 411.4 1228.9C411.9 1224.5 408.5 1220.8 405.6 1217.2C402.7 1213.6 397.9 1210.2 394.0 1207.1C390.1 1204.0 385.1 1202.0 382.4 1198.4C379.7 1194.8 379.0 1190.4 378.0 1185.3C377.0 1180.2 377.3 1173.1 376.6 1167.8C375.9 1162.5 375.2 1156.7 373.7 1153.3C372.2 1149.9 369.8 1149.9 367.8 1147.5C365.9 1145.1 363.4 1142.7 362.0 1138.8C360.6 1134.9 359.1 1128.4 359.1 1124.3C359.1 1120.2 361.0 1116.5 362.0 1114.1C363.0 1111.7 362.5 1110.8 364.9 1109.7C367.3 1108.6 372.2 1107.5 376.6 1107.4C381.0 1107.3 387.2 1107.9 391.1 1109.2C395.0 1110.5 397.4 1112.5 399.8 1115.5C402.2 1118.5 403.9 1123.8 405.6 1127.2C407.3 1130.6 408.1 1134.9 410.0 1135.9C411.9 1136.9 414.1 1134.0 417.2 1133.0C420.3 1132.0 424.5 1131.1 428.9 1130.1C433.3 1129.1 440.3 1128.7 443.4 1127.2C446.5 1125.8 448.7 1123.6 447.7 1121.4C446.7 1119.2 441.2 1116.0 437.6 1114.1C434.0 1112.1 428.7 1111.9 426.0 1109.7C423.3 1107.5 421.6 1104.9 421.6 1101.0C421.6 1097.1 423.3 1090.6 426.0 1086.5C428.7 1082.4 434.0 1078.3 437.6 1076.3C441.2 1074.3 444.6 1074.0 447.7 1074.3C450.8 1074.5 454.3 1075.8 456.5 1077.8C458.7 1079.8 460.3 1083.1 460.8 1086.5C461.3 1089.9 460.1 1094.2 459.4 1098.1C458.7 1102.0 456.5 1106.8 456.5 1109.7C456.5 1112.6 457.2 1114.3 459.4 1115.5C461.6 1116.7 465.9 1116.3 469.5 1117.0C473.1 1117.7 477.8 1120.4 481.2 1119.9C484.6 1119.4 487.5 1115.5 489.9 1114.1C492.3 1112.6 494.2 1110.5 495.7 1111.2C497.1 1111.9 497.6 1114.8 498.6 1118.4C499.6 1122.0 499.8 1129.4 501.5 1133.0C503.2 1136.6 505.7 1138.5 508.8 1140.2C511.9 1141.9 516.8 1142.8 520.4 1143.1C524.0 1143.3 527.0 1141.5 530.6 1141.7C534.2 1142.0 538.3 1143.6 542.2 1144.6C546.1 1145.6 550.9 1145.8 553.8 1147.5C556.7 1149.2 557.7 1151.9 559.6 1154.8C561.5 1157.7 563.0 1162.2 565.4 1164.9C567.8 1167.6 570.7 1168.3 574.1 1170.7C577.5 1173.1 582.1 1177.9 585.8 1179.5C589.4 1181.1 594.3 1180.3 596.0 1180.5C595.9 1182.1 594.9 1186.5 595.6 1190.0C596.3 1193.5 599.1 1197.2 600.3 1201.5C601.5 1205.8 602.8 1211.0 603.0 1215.6C603.2 1220.2 601.9 1225.1 601.5 1229.3C601.1 1233.5 599.4 1237.0 600.5 1240.5C601.6 1244.0 604.9 1247.2 608.0 1250.0C611.1 1252.8 617.3 1254.3 619.3 1257.0C621.3 1259.7 621.1 1262.3 620.0 1266.0C618.9 1269.7 614.2 1275.5 612.5 1279.0C610.8 1282.5 609.8 1285.0 609.5 1287.0C609.2 1289.0 610.8 1290.3 611.0 1291.0C611.4 1291.4 612.1 1293.4 613.5 1293.4C614.9 1293.4 616.9 1291.5 619.3 1290.8C621.7 1290.1 625.0 1288.9 627.8 1289.2C630.6 1289.5 633.5 1290.8 636.3 1292.5C639.1 1294.2 641.6 1296.9 644.7 1299.3C647.8 1301.7 652.8 1304.6 654.9 1307.0C657.0 1309.4 656.4 1311.5 657.5 1313.7C658.6 1316.0 659.9 1318.8 661.7 1320.5C663.5 1322.2 667.0 1323.2 668.5 1323.9C670.0 1324.6 670.6 1324.6 671.0 1324.7C670.9 1325.7 670.3 1329.7 670.2 1330.7C668.8 1331.7 664.5 1335.0 661.7 1336.6C658.9 1338.1 656.7 1338.6 653.2 1340.0C649.7 1341.4 644.0 1343.1 640.5 1345.1C637.0 1347.1 634.8 1350.4 632.0 1351.9C629.2 1353.5 627.1 1354.1 623.6 1354.4C620.1 1354.7 615.8 1354.6 610.8 1353.6C605.8 1352.6 599.5 1350.5 593.9 1348.5C588.3 1346.5 582.6 1344.0 577.0 1341.7C571.4 1339.4 567.7 1337.2 560.0 1334.9C552.3 1332.6 537.9 1329.0 530.6 1327.6C523.3 1326.1 521.8 1327.7 516.0 1326.2C510.2 1324.8 502.0 1322.1 495.7 1318.9C489.4 1315.8 484.1 1311.7 478.3 1307.3C472.5 1302.9 466.6 1297.6 460.8 1292.8C455.0 1288.0 449.2 1282.2 443.4 1278.3C437.6 1274.4 431.8 1271.9 426.0 1269.5C420.2 1267.1 414.3 1265.2 408.5 1263.7C402.7 1262.2 394.0 1261.3 391.1 1260.8Z" fill="#72c38c"/>
<path d="M646.0 1149.0C649.5 1148.6 659.7 1146.3 667.2 1146.4C674.7 1146.5 684.5 1149.2 690.8 1149.5C697.1 1149.8 703.2 1149.2 705.0 1147.9C706.8 1146.6 703.9 1143.9 701.8 1141.6C699.7 1139.2 695.3 1136.9 692.4 1133.8C689.5 1130.7 685.8 1125.9 684.5 1122.8C683.2 1119.7 683.5 1116.0 684.5 1114.9C685.5 1113.9 688.2 1115.5 690.8 1116.5C693.4 1117.5 697.9 1121.7 700.3 1121.2C702.7 1120.7 704.2 1116.5 705.0 1113.3C705.8 1110.1 705.4 1105.4 705.0 1102.3C704.6 1099.2 701.8 1097.6 702.6 1094.4C703.4 1091.2 706.4 1087.6 709.7 1083.4C713.0 1079.2 717.6 1074.2 722.3 1069.2C727.0 1064.2 733.5 1057.7 738.0 1053.5C742.5 1049.3 745.6 1046.1 749.0 1044.1C752.4 1042.1 755.6 1041.5 758.5 1041.7C761.4 1042.0 763.8 1043.6 766.4 1045.6C769.0 1047.6 771.3 1050.6 774.2 1053.5C777.1 1056.4 780.8 1060.9 783.7 1063.0C786.6 1065.1 789.4 1066.4 791.5 1066.1C793.6 1065.8 795.8 1064.0 796.3 1061.4C796.8 1058.8 794.7 1053.8 794.7 1050.4C794.7 1047.0 794.7 1043.1 796.3 1040.9C797.9 1038.7 801.2 1037.5 804.1 1037.0C807.0 1036.5 811.4 1038.5 813.6 1037.8C815.8 1037.1 816.6 1035.4 817.5 1033.0C818.4 1030.6 818.2 1025.8 819.1 1023.6C820.0 1021.4 820.8 1019.7 823.0 1019.7C825.2 1019.7 828.3 1021.4 832.5 1023.6C836.7 1025.8 843.0 1030.2 848.2 1033.0C853.4 1035.8 858.9 1038.5 863.9 1040.1C868.9 1041.7 873.0 1042.8 878.0 1042.5C883.0 1042.2 889.8 1040.1 893.9 1038.3C898.0 1036.5 899.6 1035.5 902.4 1031.5C905.2 1027.5 907.3 1019.7 910.8 1014.6C914.3 1009.5 919.4 1004.7 923.6 1001.0C927.9 997.3 931.4 995.9 936.3 992.5C941.2 989.1 947.6 984.7 953.2 980.7C958.9 976.8 965.9 971.7 970.2 968.8C974.5 965.9 977.5 964.4 979.0 963.5C979.6 964.0 981.7 964.8 982.5 966.5C983.3 968.2 984.6 970.4 983.7 973.9C982.8 977.4 979.4 983.3 976.9 987.5C974.4 991.7 970.3 995.2 968.5 999.3C966.7 1003.4 965.8 1008.0 965.9 1012.0C966.0 1016.0 967.6 1019.5 969.3 1023.0C971.0 1026.5 974.7 1029.7 976.1 1033.2C977.5 1036.7 978.2 1041.4 977.8 1044.2C977.4 1047.0 974.8 1047.8 973.5 1050.0C972.2 1052.2 970.8 1054.9 969.9 1057.3C969.0 1059.7 969.0 1062.0 968.4 1064.5C967.8 1067.0 966.6 1071.2 966.3 1072.5C965.7 1073.1 964.4 1074.4 962.6 1076.1C960.8 1077.8 957.8 1080.2 955.4 1082.7C953.0 1085.2 949.9 1088.6 948.1 1091.4C946.3 1094.2 946.3 1096.6 944.5 1099.4C942.7 1102.2 939.6 1105.4 937.2 1108.1C934.8 1110.8 932.0 1112.4 930.0 1115.4C928.0 1118.4 926.4 1122.7 924.9 1126.3C923.4 1129.9 921.8 1133.0 921.2 1137.2C920.6 1141.4 920.6 1147.5 921.2 1151.7C921.8 1155.9 923.1 1159.0 924.9 1162.6C926.7 1166.2 929.9 1170.5 932.1 1173.5C934.3 1176.5 936.5 1177.8 937.9 1180.7C939.3 1183.6 939.9 1188.1 940.5 1191.0C941.1 1193.9 940.7 1195.8 941.5 1198.0C942.3 1200.2 943.5 1202.6 945.4 1204.5C947.2 1206.4 950.2 1207.8 952.6 1209.6C955.0 1211.4 957.7 1213.3 959.9 1215.4C962.1 1217.5 964.2 1220.1 965.7 1222.0C967.2 1223.9 967.2 1225.7 968.6 1227.0C970.0 1228.3 972.2 1228.5 974.4 1230.0C976.6 1231.5 979.5 1233.8 981.7 1235.8C983.9 1237.8 986.4 1240.2 987.5 1242.3C988.6 1244.3 988.7 1246.6 988.2 1248.1C987.7 1249.5 986.3 1250.6 984.6 1251.0C982.9 1251.4 980.4 1250.9 978.1 1250.3C975.8 1249.7 973.2 1248.2 970.8 1247.4C968.4 1246.6 965.9 1245.3 963.5 1245.2C961.1 1245.1 958.7 1245.5 956.3 1246.7C953.9 1247.9 951.4 1250.7 949.0 1252.5C946.6 1254.3 944.1 1256.4 941.7 1257.6C939.3 1258.8 936.9 1259.2 934.5 1259.7C932.1 1260.2 928.8 1259.8 927.2 1260.5C925.6 1261.2 925.2 1262.5 925.0 1264.1C924.8 1265.7 926.0 1268.1 925.8 1269.9C925.6 1271.7 924.0 1273.2 923.6 1275.0C923.2 1276.8 923.2 1279.2 923.6 1280.8C924.0 1282.4 926.3 1283.0 925.8 1284.4C925.3 1285.9 921.6 1288.7 920.7 1289.5C919.7 1289.6 917.5 1290.4 914.9 1290.2C912.3 1290.0 908.2 1288.2 905.4 1288.1C902.6 1288.0 900.6 1288.7 898.2 1289.5C895.8 1290.3 893.0 1292.6 890.9 1293.1C888.8 1293.6 887.8 1292.8 885.8 1292.4C883.8 1292.0 881.8 1290.6 879.0 1290.5C876.2 1290.4 872.6 1290.5 868.8 1291.8C865.0 1293.1 859.5 1295.3 856.1 1298.1C852.7 1300.8 850.6 1305.5 848.5 1308.3C846.4 1311.1 845.9 1314.3 843.4 1314.7C840.9 1315.1 837.4 1312.9 833.2 1310.8C829.0 1308.7 823.1 1304.5 818.0 1302.0C812.9 1299.5 807.0 1296.0 802.7 1295.6C798.5 1295.2 795.5 1297.3 792.5 1299.4C789.5 1301.5 788.3 1305.5 784.9 1308.3C781.5 1311.0 776.0 1313.4 772.2 1315.9C768.4 1318.5 765.4 1320.2 762.0 1323.6C758.6 1327.0 754.9 1333.5 751.9 1336.3C748.9 1339.0 746.8 1340.1 744.2 1340.1C741.7 1340.1 739.6 1337.8 736.6 1336.3C733.6 1334.8 729.4 1332.9 726.4 1331.2C723.4 1329.5 720.9 1328.0 718.8 1326.1C716.7 1324.2 716.3 1320.2 713.7 1319.7C711.1 1319.2 705.7 1321.7 703.0 1323.0C700.3 1324.3 699.1 1326.9 697.3 1327.3C695.5 1327.7 693.9 1326.9 692.2 1325.6C690.5 1324.3 689.1 1321.1 687.1 1319.7C685.1 1318.3 682.5 1317.2 680.3 1317.1C678.0 1316.9 675.1 1317.5 673.6 1318.8C672.1 1320.1 671.4 1323.7 671.0 1324.7C670.6 1324.6 670.0 1324.6 668.5 1323.9C667.0 1323.2 663.5 1322.2 661.7 1320.5C659.9 1318.8 658.6 1316.0 657.5 1313.7C656.4 1311.5 657.0 1309.4 654.9 1307.0C652.8 1304.6 647.8 1301.7 644.7 1299.3C641.6 1296.9 639.1 1294.2 636.3 1292.5C633.5 1290.8 630.6 1289.5 627.8 1289.2C625.0 1288.9 621.7 1290.1 619.3 1290.8C616.9 1291.5 614.9 1293.4 613.5 1293.4C612.1 1293.4 611.4 1291.4 611.0 1291.0C610.8 1290.3 609.2 1289.0 609.5 1287.0C609.8 1285.0 610.8 1282.5 612.5 1279.0C614.2 1275.5 618.9 1269.7 620.0 1266.0C621.1 1262.3 621.3 1259.7 619.3 1257.0C617.3 1254.3 611.1 1252.8 608.0 1250.0C604.9 1247.2 601.6 1244.0 600.5 1240.5C599.4 1237.0 601.1 1233.5 601.5 1229.3C601.9 1225.1 603.2 1220.2 603.0 1215.6C602.8 1211.0 601.5 1205.8 600.3 1201.5C599.1 1197.2 596.3 1193.5 595.6 1190.0C594.9 1186.5 595.9 1182.1 596.0 1180.5C596.4 1179.6 596.9 1177.0 598.5 1175.0C600.1 1173.0 603.0 1171.8 605.4 1168.6C607.8 1165.4 610.6 1158.7 613.0 1156.0C615.4 1153.3 617.3 1152.5 620.0 1152.7C622.7 1152.9 626.8 1157.3 629.4 1157.4C632.0 1157.5 632.9 1154.8 635.7 1153.4C638.5 1152.0 644.3 1149.7 646.0 1149.0Z" fill="#f26750"/>
<path d="M391.1 1260.8C394.0 1261.3 402.7 1262.2 408.5 1263.7C414.3 1265.2 420.2 1267.1 426.0 1269.5C431.8 1271.9 437.6 1274.4 443.4 1278.3C449.2 1282.2 455.0 1288.0 460.8 1292.8C466.6 1297.6 472.5 1302.9 478.3 1307.3C484.1 1311.7 489.4 1315.8 495.7 1318.9C502.0 1322.1 510.2 1324.8 516.0 1326.2C521.8 1327.7 523.3 1326.1 530.6 1327.6C537.9 1329.0 552.3 1332.6 560.0 1334.9C567.7 1337.2 571.4 1339.4 577.0 1341.7C582.6 1344.0 588.3 1346.5 593.9 1348.5C599.5 1350.5 605.8 1352.6 610.8 1353.6C615.8 1354.6 620.1 1354.7 623.6 1354.4C627.1 1354.1 629.2 1353.5 632.0 1351.9C634.8 1350.4 637.0 1347.1 640.5 1345.1C644.0 1343.1 649.7 1341.4 653.2 1340.0C656.7 1338.6 658.9 1338.1 661.7 1336.6C664.5 1335.0 668.8 1331.7 670.2 1330.7C671.1 1330.8 673.6 1330.2 675.3 1331.5C677.0 1332.8 679.0 1335.9 680.3 1338.3C681.6 1340.7 682.9 1343.8 682.9 1345.9C682.9 1348.0 682.4 1349.3 680.3 1351.0C678.2 1352.7 673.3 1354.6 670.2 1356.1C667.1 1357.6 664.4 1358.6 661.7 1360.0C659.0 1361.4 656.0 1362.4 654.0 1364.5C652.0 1366.6 650.2 1369.3 650.0 1372.5C649.8 1375.7 651.3 1380.3 652.6 1383.5C653.9 1386.7 656.4 1387.9 658.0 1391.5C659.6 1395.1 660.4 1400.4 662.0 1404.9C663.6 1409.4 665.6 1414.0 667.5 1418.5C669.4 1423.0 671.8 1427.5 673.5 1432.0C675.2 1436.5 677.5 1442.3 677.7 1445.4C677.9 1448.5 676.8 1449.3 674.8 1450.5C672.8 1451.7 668.2 1452.1 665.4 1452.7C662.6 1453.3 659.8 1453.2 658.1 1454.1C656.4 1454.9 655.9 1455.6 655.2 1457.8C654.5 1460.0 654.0 1464.0 653.8 1467.2C653.6 1470.4 653.3 1474.3 653.8 1476.7C654.3 1479.1 655.1 1480.1 656.7 1481.7C658.3 1483.3 661.0 1484.4 663.2 1486.1C665.4 1487.8 668.2 1489.9 669.7 1491.9C671.2 1494.0 671.9 1495.9 671.9 1498.4C671.9 1501.0 671.0 1504.7 669.7 1507.2C668.4 1509.8 665.8 1511.5 663.9 1513.7C662.0 1515.9 659.4 1517.9 658.1 1520.2C656.8 1522.5 656.4 1525.1 655.9 1527.5C655.4 1529.9 655.3 1533.6 655.2 1534.8C654.5 1534.9 652.7 1535.3 650.8 1535.5C648.9 1535.7 645.8 1535.5 643.6 1536.2C641.4 1536.9 639.4 1538.9 637.8 1539.9C636.2 1540.9 635.8 1541.9 634.1 1542.0C632.4 1542.1 630.2 1541.4 627.6 1540.6C625.0 1539.8 621.5 1538.2 618.2 1537.0C615.0 1535.8 611.6 1534.2 608.1 1533.1C604.6 1532.0 600.8 1530.9 597.2 1530.2C593.6 1529.5 589.9 1529.3 586.3 1528.8C582.7 1528.3 578.4 1528.1 575.4 1527.3C572.4 1526.5 569.9 1525.4 568.1 1523.7C566.3 1522.0 565.0 1519.8 564.5 1517.2C564.0 1514.7 565.3 1511.4 565.2 1508.4C565.1 1505.4 564.2 1502.0 563.8 1499.0C563.4 1496.0 563.7 1493.0 563.0 1490.3C562.3 1487.6 561.0 1485.1 559.4 1483.0C557.8 1480.9 555.8 1478.9 553.6 1477.9C551.4 1476.9 549.0 1476.8 546.3 1477.2C543.6 1477.6 541.2 1479.0 537.6 1480.1C534.0 1481.2 529.5 1483.2 524.5 1483.8C519.5 1484.3 513.1 1484.0 507.3 1483.4C501.5 1482.9 494.7 1482.0 489.9 1480.5C485.1 1479.0 481.7 1477.1 478.3 1474.7C474.9 1472.3 472.9 1468.9 469.5 1466.0C466.1 1463.1 462.2 1459.4 457.9 1457.2C453.5 1455.0 447.8 1453.1 443.4 1452.9C439.0 1452.7 434.7 1453.6 431.8 1455.8C428.9 1458.0 427.0 1461.9 426.0 1466.0C425.0 1470.1 427.0 1477.1 426.0 1480.5C425.0 1483.9 423.0 1485.6 420.1 1486.3C417.2 1487.0 412.9 1485.8 408.5 1484.8C404.1 1483.8 399.8 1481.7 394.0 1480.5C388.2 1479.3 380.0 1478.5 373.7 1477.6C367.4 1476.7 360.5 1476.1 356.2 1475.0C351.9 1473.9 350.3 1472.7 348.1 1471.0C345.9 1469.3 343.7 1467.1 343.1 1464.8C342.5 1462.5 344.7 1459.6 344.3 1457.3C343.9 1455.0 342.7 1453.1 340.6 1451.1C338.5 1449.0 334.8 1446.5 331.9 1445.0C329.0 1443.5 327.8 1442.7 323.2 1442.4C318.6 1442.1 311.8 1442.9 304.5 1443.0C297.2 1443.1 286.9 1443.3 279.6 1443.0C272.3 1442.7 265.9 1442.1 260.9 1441.2C255.9 1440.3 251.9 1438.9 249.7 1437.4C247.5 1435.9 247.0 1434.5 247.8 1432.4C248.6 1430.3 252.1 1427.1 254.7 1425.0C257.3 1422.9 260.0 1423.3 263.4 1420.0C266.8 1416.7 269.1 1409.4 274.9 1404.9C280.7 1400.5 291.8 1396.7 298.1 1393.3C304.4 1389.9 311.2 1388.0 312.6 1384.6C314.1 1381.2 306.8 1377.4 306.8 1373.0C306.8 1368.6 310.2 1362.3 312.6 1358.4C315.0 1354.5 317.5 1351.4 321.4 1349.7C325.3 1348.0 330.8 1348.5 335.9 1348.3C341.0 1348.1 348.5 1351.0 351.9 1348.3C355.3 1345.6 355.0 1337.9 356.2 1332.3C357.4 1326.7 358.1 1320.7 359.1 1314.9C360.1 1309.1 361.0 1302.5 362.0 1297.4C363.0 1292.3 363.9 1288.1 364.9 1284.4C365.9 1280.7 365.9 1278.3 367.8 1275.3C369.8 1272.3 372.7 1269.0 376.6 1266.6C380.5 1264.2 388.7 1261.8 391.1 1260.8Z" fill="#f26750"/>
<path d="M671.0 1324.7C671.4 1323.7 672.1 1320.1 673.6 1318.8C675.1 1317.5 678.0 1316.9 680.3 1317.1C682.5 1317.2 685.1 1318.3 687.1 1319.7C689.1 1321.1 690.5 1324.3 692.2 1325.6C693.9 1326.9 695.5 1327.7 697.3 1327.3C699.1 1326.9 700.3 1324.3 703.0 1323.0C705.7 1321.7 711.1 1319.2 713.7 1319.7C716.3 1320.2 716.7 1324.2 718.8 1326.1C720.9 1328.0 723.4 1329.5 726.4 1331.2C729.4 1332.9 733.6 1334.8 736.6 1336.3C739.6 1337.8 741.7 1340.1 744.2 1340.1C746.8 1340.1 748.9 1339.0 751.9 1336.3C754.9 1333.5 758.6 1327.0 762.0 1323.6C765.4 1320.2 768.4 1318.5 772.2 1315.9C776.0 1313.4 781.5 1311.0 784.9 1308.3C788.3 1305.5 789.5 1301.5 792.5 1299.4C795.5 1297.3 798.5 1295.2 802.7 1295.6C807.0 1296.0 812.9 1299.5 818.0 1302.0C823.1 1304.5 829.0 1308.7 833.2 1310.8C837.4 1312.9 840.9 1315.1 843.4 1314.7C845.9 1314.3 846.4 1311.1 848.5 1308.3C850.6 1305.5 852.7 1300.8 856.1 1298.1C859.5 1295.3 865.0 1293.1 868.8 1291.8C872.6 1290.5 876.2 1290.4 879.0 1290.5C881.8 1290.6 883.8 1292.0 885.8 1292.4C887.8 1292.8 888.8 1293.6 890.9 1293.1C893.0 1292.6 895.8 1290.3 898.2 1289.5C900.6 1288.7 902.6 1288.0 905.4 1288.1C908.2 1288.2 912.3 1290.0 914.9 1290.2C917.5 1290.4 919.7 1289.6 920.7 1289.5C920.0 1290.1 917.4 1291.5 916.3 1293.1C915.2 1294.7 914.1 1297.0 914.1 1299.0C914.1 1301.0 915.0 1303.5 916.3 1304.8C917.6 1306.1 919.8 1306.4 922.1 1307.0C924.4 1307.6 927.3 1308.0 930.0 1308.5C932.7 1309.0 936.0 1308.8 938.5 1310.2C941.0 1311.6 943.8 1314.4 945.3 1316.9C946.8 1319.4 947.4 1322.3 947.8 1325.4C948.2 1328.5 947.1 1332.8 947.8 1335.6C948.5 1338.4 950.0 1340.1 952.0 1342.4C954.0 1344.7 957.0 1347.4 959.7 1349.2C962.4 1351.0 964.9 1352.0 968.1 1353.4C971.4 1354.8 976.0 1356.3 979.2 1357.6C982.5 1358.9 985.9 1359.3 987.6 1361.0C989.3 1362.7 989.3 1365.2 989.3 1367.8C989.3 1370.3 988.2 1373.5 987.6 1376.3C987.0 1379.1 985.9 1381.9 985.9 1384.7C985.9 1387.5 986.6 1390.4 987.6 1393.2C988.6 1396.0 990.3 1399.3 991.9 1401.7C993.5 1404.1 996.1 1406.6 997.0 1407.6C997.0 1408.7 997.2 1411.9 996.9 1414.4C996.6 1417.0 996.6 1420.5 995.3 1422.9C994.0 1425.3 991.7 1427.2 989.3 1428.8C986.9 1430.3 983.6 1431.6 980.8 1432.2C978.0 1432.8 975.2 1432.6 972.4 1432.2C969.6 1431.8 966.7 1429.8 963.9 1429.7C961.1 1429.6 957.8 1430.1 955.4 1431.4C953.0 1432.7 951.2 1434.5 949.5 1437.3C947.8 1440.1 946.3 1445.0 945.1 1448.1C943.9 1451.2 943.8 1453.2 942.5 1455.8C941.2 1458.3 940.0 1460.9 937.5 1463.4C935.0 1465.9 930.3 1468.5 927.3 1471.0C924.3 1473.5 922.7 1476.0 919.7 1478.6C916.7 1481.1 911.6 1484.2 909.5 1486.3C907.4 1488.4 905.3 1491.0 907.0 1491.4C908.7 1491.8 915.5 1489.2 919.7 1488.8C923.9 1488.4 929.9 1487.7 932.4 1488.8C934.9 1489.9 935.3 1492.7 934.9 1495.2C934.5 1497.8 931.1 1500.5 929.8 1504.1C928.5 1507.7 928.6 1513.0 927.3 1516.8C926.0 1520.6 923.9 1524.9 922.2 1527.0C920.5 1529.1 918.8 1528.9 917.1 1529.5C915.4 1530.1 914.1 1531.2 912.0 1530.8C909.9 1530.4 906.9 1528.1 904.4 1527.0C901.9 1525.9 899.3 1524.0 896.8 1524.4C894.3 1524.8 892.2 1527.8 889.2 1529.5C886.2 1531.2 882.4 1533.3 879.0 1534.6C875.6 1535.9 872.2 1535.8 868.8 1537.1C865.4 1538.4 862.0 1539.7 858.6 1542.2C855.2 1544.8 850.6 1549.4 848.5 1552.4C846.4 1555.4 847.2 1558.3 845.9 1560.0C844.6 1561.7 842.9 1562.7 840.8 1562.5C838.7 1562.3 836.2 1559.5 833.2 1558.7C830.2 1557.9 826.0 1557.6 823.0 1557.4C820.0 1557.2 817.9 1557.0 815.4 1557.4C812.9 1557.8 810.3 1558.7 807.8 1560.0C805.3 1561.3 802.8 1563.0 800.2 1565.1C797.7 1567.2 794.2 1569.7 792.5 1572.7C790.8 1575.7 791.3 1580.6 790.0 1582.9C788.7 1585.2 787.0 1586.7 784.9 1586.7C782.8 1586.7 779.8 1584.8 777.3 1582.9C774.8 1581.0 772.7 1577.4 769.7 1575.3C766.7 1573.2 762.9 1571.0 759.5 1570.2C756.1 1569.4 753.1 1571.1 749.3 1570.2C745.5 1569.3 740.4 1566.4 736.6 1565.1C732.8 1563.8 729.8 1562.5 726.4 1562.5C723.0 1562.5 718.4 1563.0 716.3 1565.1C714.2 1567.2 715.0 1572.8 713.7 1575.3C712.4 1577.8 711.1 1579.5 708.6 1580.3C706.1 1581.1 701.0 1581.1 698.5 1580.3C696.0 1579.5 695.1 1577.8 693.4 1575.3C691.7 1572.8 689.9 1568.2 688.3 1565.1C686.6 1561.9 685.5 1558.4 683.5 1556.4C681.5 1554.4 679.3 1553.9 676.3 1552.9C673.3 1552.0 668.4 1551.7 665.4 1550.7C662.4 1549.7 659.8 1548.9 658.1 1547.1C656.4 1545.3 655.7 1542.0 655.2 1539.9C654.7 1537.9 655.2 1535.7 655.2 1534.8C655.3 1533.6 655.4 1529.9 655.9 1527.5C656.4 1525.1 656.8 1522.5 658.1 1520.2C659.4 1517.9 662.0 1515.9 663.9 1513.7C665.8 1511.5 668.4 1509.8 669.7 1507.2C671.0 1504.7 671.9 1501.0 671.9 1498.4C671.9 1495.9 671.2 1494.0 669.7 1491.9C668.2 1489.9 665.4 1487.8 663.2 1486.1C661.0 1484.4 658.3 1483.3 656.7 1481.7C655.1 1480.1 654.3 1479.1 653.8 1476.7C653.3 1474.3 653.6 1470.4 653.8 1467.2C654.0 1464.0 654.5 1460.0 655.2 1457.8C655.9 1455.6 656.4 1454.9 658.1 1454.1C659.8 1453.2 662.6 1453.3 665.4 1452.7C668.2 1452.1 672.8 1451.7 674.8 1450.5C676.8 1449.3 677.9 1448.5 677.7 1445.4C677.5 1442.3 675.2 1436.5 673.5 1432.0C671.8 1427.5 669.4 1423.0 667.5 1418.5C665.6 1414.0 663.6 1409.4 662.0 1404.9C660.4 1400.4 659.6 1395.1 658.0 1391.5C656.4 1387.9 653.9 1386.7 652.6 1383.5C651.3 1380.3 649.8 1375.7 650.0 1372.5C650.2 1369.3 652.0 1366.6 654.0 1364.5C656.0 1362.4 659.0 1361.4 661.7 1360.0C664.4 1358.6 667.1 1357.6 670.2 1356.1C673.3 1354.6 678.2 1352.7 680.3 1351.0C682.4 1349.3 682.9 1348.0 682.9 1345.9C682.9 1343.8 681.6 1340.7 680.3 1338.3C679.0 1335.9 677.0 1332.8 675.3 1331.5C673.6 1330.2 671.1 1330.8 670.2 1330.7C670.3 1329.7 670.9 1325.7 671.0 1324.7Z" fill="#6bbfdc"/>
<path d="M920.7 1289.5C921.6 1288.7 925.3 1285.9 925.8 1284.4C926.3 1283.0 924.0 1282.4 923.6 1280.8C923.2 1279.2 923.2 1276.8 923.6 1275.0C924.0 1273.2 925.6 1271.7 925.8 1269.9C926.0 1268.1 924.8 1265.7 925.0 1264.1C925.2 1262.5 925.6 1261.2 927.2 1260.5C928.8 1259.8 932.1 1260.2 934.5 1259.7C936.9 1259.2 939.3 1258.8 941.7 1257.6C944.1 1256.4 946.6 1254.3 949.0 1252.5C951.4 1250.7 953.9 1247.9 956.3 1246.7C958.7 1245.5 961.1 1245.1 963.5 1245.2C965.9 1245.3 968.4 1246.6 970.8 1247.4C973.2 1248.2 975.8 1249.7 978.1 1250.3C980.4 1250.9 982.9 1251.4 984.6 1251.0C986.3 1250.6 987.7 1249.5 988.2 1248.1C988.7 1246.6 988.6 1244.3 987.5 1242.3C986.4 1240.2 983.9 1237.8 981.7 1235.8C979.5 1233.8 976.6 1231.5 974.4 1230.0C972.2 1228.5 970.0 1228.3 968.6 1227.0C967.2 1225.7 967.2 1223.9 965.7 1222.0C964.2 1220.1 962.1 1217.5 959.9 1215.4C957.7 1213.3 955.0 1211.4 952.6 1209.6C950.2 1207.8 947.2 1206.4 945.4 1204.5C943.5 1202.6 942.3 1200.2 941.5 1198.0C940.7 1195.8 941.1 1193.9 940.5 1191.0C939.9 1188.1 939.3 1183.6 937.9 1180.7C936.5 1177.8 934.3 1176.5 932.1 1173.5C929.9 1170.5 926.7 1166.2 924.9 1162.6C923.1 1159.0 921.8 1155.9 921.2 1151.7C920.6 1147.5 920.6 1141.4 921.2 1137.2C921.8 1133.0 923.4 1129.9 924.9 1126.3C926.4 1122.7 928.0 1118.4 930.0 1115.4C932.0 1112.4 934.8 1110.8 937.2 1108.1C939.6 1105.4 942.7 1102.2 944.5 1099.4C946.3 1096.6 946.3 1094.2 948.1 1091.4C949.9 1088.6 953.0 1085.2 955.4 1082.7C957.8 1080.2 960.8 1077.8 962.6 1076.1C964.4 1074.4 965.7 1073.1 966.3 1072.5C966.9 1072.8 968.3 1073.6 969.9 1074.0C971.5 1074.4 973.5 1073.9 975.7 1074.7C977.9 1075.5 980.8 1076.9 983.0 1079.1C985.2 1081.3 987.1 1085.1 988.8 1087.8C990.5 1090.5 991.4 1093.1 993.1 1095.0C994.8 1096.9 997.4 1097.5 999.0 1099.4C1000.6 1101.4 1001.4 1104.0 1002.6 1106.7C1003.8 1109.4 1004.6 1113.4 1006.2 1115.4C1007.8 1117.4 1009.4 1117.8 1012.0 1118.5C1014.6 1119.2 1018.1 1118.6 1022.0 1119.4C1025.9 1120.2 1031.1 1121.8 1035.6 1123.3C1040.1 1124.8 1046.0 1127.0 1049.2 1128.1C1052.4 1129.2 1052.4 1129.0 1055.0 1130.1C1057.6 1131.2 1061.4 1133.1 1064.6 1134.9C1067.8 1136.7 1070.7 1138.6 1074.3 1140.7C1077.9 1142.8 1082.8 1146.2 1086.0 1147.5C1089.2 1148.8 1091.5 1147.8 1093.7 1148.5C1096.0 1149.2 1097.6 1150.1 1099.5 1151.4C1101.4 1152.7 1103.0 1154.9 1105.3 1156.2C1107.6 1157.5 1110.5 1158.8 1113.1 1159.1C1115.7 1159.4 1118.2 1159.0 1120.8 1158.2C1123.4 1157.4 1125.0 1155.6 1128.6 1154.3C1132.1 1153.0 1137.6 1151.7 1142.1 1150.4C1146.6 1149.1 1150.8 1148.1 1155.7 1146.5C1160.6 1144.9 1167.3 1142.6 1171.2 1140.7C1175.1 1138.8 1176.5 1136.2 1178.9 1134.9C1181.3 1133.6 1183.8 1132.6 1185.7 1132.6C1187.7 1132.6 1189.5 1133.2 1190.6 1134.9C1191.7 1136.6 1191.5 1140.1 1192.5 1142.7C1193.5 1145.3 1195.1 1147.8 1196.4 1150.4C1197.7 1153.0 1199.6 1155.6 1200.2 1158.2C1200.8 1160.8 1200.5 1163.0 1200.2 1165.9C1199.9 1168.8 1199.6 1172.4 1198.3 1175.6C1197.0 1178.8 1194.1 1182.4 1192.5 1185.3C1190.9 1188.2 1189.2 1190.4 1188.6 1193.0C1187.9 1195.6 1189.6 1198.2 1188.6 1200.8C1187.6 1203.4 1185.0 1206.2 1182.8 1208.5C1180.5 1210.8 1177.3 1212.7 1175.1 1214.3C1172.8 1215.9 1170.6 1216.2 1169.3 1218.2C1168.0 1220.2 1168.6 1223.4 1167.3 1226.0C1166.0 1228.6 1163.8 1231.5 1161.5 1233.7C1159.2 1236.0 1155.4 1236.9 1153.8 1239.5C1152.2 1242.1 1151.8 1245.3 1151.8 1249.2C1151.8 1253.1 1153.8 1258.9 1153.8 1262.8C1153.8 1266.7 1152.1 1268.9 1151.8 1272.4C1151.5 1276.0 1152.8 1280.5 1151.8 1284.1C1150.8 1287.7 1148.2 1291.9 1146.0 1293.8C1143.8 1295.7 1140.6 1294.7 1138.3 1295.7C1136.0 1296.7 1134.4 1298.0 1132.4 1299.6C1130.5 1301.2 1128.8 1303.8 1126.6 1305.4C1124.3 1307.0 1121.5 1308.0 1118.9 1309.3C1116.3 1310.6 1113.0 1311.5 1111.1 1313.1C1109.2 1314.7 1108.6 1317.0 1107.3 1318.9C1106.0 1320.8 1105.7 1323.7 1103.4 1324.7C1101.1 1325.7 1096.6 1325.3 1093.7 1324.7C1090.8 1324.1 1088.3 1320.9 1086.0 1320.9C1083.7 1320.9 1082.0 1323.1 1080.1 1324.7C1078.1 1326.3 1076.2 1328.6 1074.3 1330.6C1072.4 1332.5 1070.5 1335.2 1068.5 1336.4C1066.5 1337.7 1064.1 1337.1 1062.2 1338.1C1060.3 1339.1 1058.6 1340.3 1057.1 1342.4C1055.5 1344.5 1053.8 1348.0 1052.9 1350.8C1052.1 1353.6 1051.9 1356.8 1052.0 1359.3C1052.1 1361.8 1053.0 1364.0 1053.7 1366.1C1054.4 1368.2 1056.2 1370.3 1056.3 1372.0C1056.4 1373.7 1055.9 1375.9 1054.6 1376.3C1053.3 1376.7 1050.3 1375.2 1048.6 1374.6C1046.9 1374.0 1046.5 1372.6 1044.4 1372.9C1042.3 1373.2 1038.7 1375.2 1035.9 1376.3C1033.1 1377.4 1030.3 1378.8 1027.5 1379.7C1024.7 1380.6 1022.0 1380.4 1019.0 1381.4C1016.0 1382.4 1012.2 1384.0 1009.7 1385.6C1007.2 1387.1 1004.8 1389.2 1003.7 1390.7C1002.6 1392.2 1002.6 1393.5 1002.9 1394.9C1003.2 1396.3 1005.1 1397.7 1005.4 1399.2C1005.7 1400.8 1005.5 1402.9 1004.6 1404.2C1003.8 1405.5 1001.6 1406.2 1000.3 1406.8C999.0 1407.4 997.5 1407.5 997.0 1407.6C996.1 1406.6 993.5 1404.1 991.9 1401.7C990.3 1399.3 988.6 1396.0 987.6 1393.2C986.6 1390.4 985.9 1387.5 985.9 1384.7C985.9 1381.9 987.0 1379.1 987.6 1376.3C988.2 1373.5 989.3 1370.3 989.3 1367.8C989.3 1365.2 989.3 1362.7 987.6 1361.0C985.9 1359.3 982.5 1358.9 979.2 1357.6C976.0 1356.3 971.4 1354.8 968.1 1353.4C964.9 1352.0 962.4 1351.0 959.7 1349.2C957.0 1347.4 954.0 1344.7 952.0 1342.4C950.0 1340.1 948.5 1338.4 947.8 1335.6C947.1 1332.8 948.2 1328.5 947.8 1325.4C947.4 1322.3 946.8 1319.4 945.3 1316.9C943.8 1314.4 941.0 1311.6 938.5 1310.2C936.0 1308.8 932.7 1309.0 930.0 1308.5C927.3 1308.0 924.4 1307.6 922.1 1307.0C919.8 1306.4 917.6 1306.1 916.3 1304.8C915.0 1303.5 914.1 1301.0 914.1 1299.0C914.1 1297.0 915.2 1294.7 916.3 1293.1C917.4 1291.5 920.0 1290.1 920.7 1289.5Z" fill="url(#hCoral)"/>
<path d="M611.0 1291.0C609.6 1293.6 608.8 1289.7 606.6 1290.8C604.5 1291.9 600.5 1295.3 598.1 1297.6C595.7 1299.9 593.8 1302.0 592.2 1304.4C590.7 1306.8 589.6 1309.3 588.8 1312.0C587.9 1314.7 587.7 1317.8 587.1 1320.5C586.5 1323.2 586.4 1325.8 585.4 1328.1C584.4 1330.4 582.9 1332.3 581.2 1334.1C579.5 1335.9 576.0 1333.8 575.0 1339.0C574.0 1344.2 554.2 1360.7 575.0 1365.0C595.8 1369.3 679.2 1380.0 700.0 1365.0C720.8 1350.0 714.2 1290.0 700.0 1275.0C685.8 1260.0 629.8 1272.3 615.0 1275.0C600.2 1277.7 612.4 1288.4 611.0 1291.0Z" fill="#f26750" clip-path="url(#clipVA)"/>
<path d="M542.7 1476.5C542.9 1473.0 543.5 1462.8 544.1 1459.1C544.7 1455.3 544.7 1455.5 546.3 1454.0C547.9 1452.5 550.6 1450.8 553.6 1450.3C556.6 1449.8 561.1 1450.5 564.5 1451.1C567.9 1451.7 571.5 1452.9 573.9 1454.0C576.3 1455.1 576.9 1457.1 579.0 1457.6C581.1 1458.1 583.3 1457.4 586.3 1456.9C589.3 1456.4 593.6 1455.6 597.2 1454.7C600.8 1453.8 605.1 1453.0 608.1 1451.8C611.1 1450.6 612.9 1448.6 615.3 1447.4C617.7 1446.2 620.3 1445.1 622.6 1444.5C624.9 1443.9 626.8 1443.9 629.1 1444.0C631.4 1444.1 633.9 1444.2 636.3 1445.1C638.7 1445.9 641.2 1447.9 643.6 1449.1C646.0 1450.2 648.8 1451.3 650.8 1452.0C652.8 1452.7 646.9 1453.7 655.9 1453.4C664.9 1453.1 696.8 1423.9 705.0 1450.0C713.2 1476.1 732.0 1583.3 705.0 1610.0C678.0 1636.7 570.0 1631.7 543.0 1610.0C516.0 1588.3 543.0 1502.2 543.0 1480.0C543.0 1457.8 542.5 1480.0 542.7 1476.5Z" fill="url(#hBlue)" clip-path="url(#clipBDR)"/>
<path d="M751.9 1336.3C751.5 1351.1 748.9 1344.8 749.3 1349.0C749.7 1353.2 751.8 1357.9 754.4 1361.7C757.0 1365.5 760.4 1368.5 764.6 1371.9C768.8 1375.3 774.3 1379.0 779.8 1382.0C785.3 1385.0 791.2 1387.6 797.6 1389.7C804.0 1391.8 813.3 1393.0 818.0 1394.7C822.7 1396.4 825.6 1397.7 825.6 1399.8C825.6 1401.9 821.4 1405.4 818.0 1407.5C814.6 1409.6 808.7 1410.0 805.3 1412.5C801.9 1415.0 799.7 1418.5 797.6 1422.7C795.5 1427.0 794.2 1432.9 792.5 1438.0C790.8 1443.1 789.2 1448.5 787.5 1453.2C785.8 1457.9 784.1 1461.7 782.4 1465.9C780.7 1470.1 777.9 1474.8 777.3 1478.6C776.7 1482.4 776.9 1485.8 778.6 1488.8C780.3 1491.8 783.0 1494.7 787.5 1496.4C792.0 1498.1 799.4 1499.0 805.3 1499.0C811.2 1499.0 817.2 1497.5 823.1 1496.4C829.0 1495.3 835.7 1493.4 840.8 1492.6C845.9 1491.8 849.8 1490.8 853.6 1491.4C857.4 1492.0 861.2 1493.4 863.7 1496.4C866.2 1499.4 867.5 1505.4 868.8 1509.2C870.1 1513.0 870.1 1516.3 871.4 1519.3C872.7 1522.3 874.3 1525.3 876.4 1527.0C878.5 1528.7 881.1 1529.5 884.1 1529.5C887.1 1529.5 891.2 1527.6 894.2 1527.0C897.2 1526.4 897.6 1522.8 901.9 1525.7C906.1 1528.7 895.6 1546.6 919.7 1544.7C943.9 1542.8 1025.6 1561.7 1046.8 1514.2C1068.0 1466.8 1096.0 1302.4 1046.8 1260.0C997.6 1217.6 801.0 1247.3 751.9 1260.0C702.8 1272.7 752.3 1321.5 751.9 1336.3Z" fill="#3d6bb4" clip-path="url(#clipVAR)"/>
<path d="M930.0 1060.0C900.2 1058.9 945.2 1086.8 948.0 1093.6C950.8 1100.4 946.9 1097.2 946.7 1100.8C946.5 1104.4 945.9 1110.6 946.7 1115.4C947.5 1120.2 949.7 1126.3 951.7 1129.9C953.8 1133.5 956.0 1135.5 959.0 1137.2C962.0 1138.9 966.3 1139.5 969.9 1140.1C973.5 1140.7 977.2 1139.5 980.8 1140.8C984.4 1142.1 988.7 1145.1 991.7 1148.1C994.7 1151.1 996.2 1153.8 999.0 1159.0C1001.8 1164.2 1005.0 1173.8 1008.5 1179.5C1012.0 1185.2 1016.6 1188.5 1020.1 1193.0C1023.6 1197.5 1026.9 1202.1 1029.8 1206.6C1032.7 1211.1 1035.2 1215.6 1037.5 1220.1C1039.8 1224.6 1041.7 1228.8 1043.3 1233.7C1044.9 1238.6 1045.9 1244.0 1047.2 1249.2C1048.5 1254.4 1050.1 1259.5 1051.1 1264.7C1052.1 1269.9 1053.3 1275.7 1053.0 1280.2C1052.7 1284.7 1050.2 1288.5 1049.2 1291.8C1048.2 1295.1 1046.8 1296.5 1047.0 1300.0C1047.2 1303.5 1048.6 1308.5 1050.3 1312.7C1052.0 1316.9 1054.8 1321.6 1057.1 1325.4C1059.4 1329.2 1060.9 1331.5 1063.9 1335.6C1066.9 1339.7 1062.3 1352.6 1075.0 1350.0C1087.7 1347.4 1129.6 1329.4 1140.0 1320.0C1150.4 1310.6 1137.9 1299.8 1137.3 1293.8C1136.7 1287.8 1136.8 1287.7 1136.3 1284.1C1135.8 1280.5 1135.7 1276.3 1134.4 1272.4C1133.1 1268.5 1130.9 1264.7 1128.6 1260.8C1126.3 1256.9 1122.4 1253.7 1120.8 1249.2C1119.2 1244.7 1118.9 1239.5 1118.9 1233.7C1118.9 1227.9 1120.2 1220.8 1120.8 1214.3C1121.4 1207.8 1122.1 1201.5 1122.8 1195.0C1123.5 1188.5 1124.1 1181.7 1124.7 1175.6C1125.3 1169.5 1126.3 1170.8 1126.6 1158.2C1126.9 1145.6 1159.4 1116.4 1126.6 1100.0C1093.8 1083.6 959.8 1061.1 930.0 1060.0Z" fill="#8a8fc8" clip-path="url(#clipAM)"/>
<path d="M1126.6 1100.0C1109.4 1109.7 1126.9 1145.6 1126.6 1158.2C1126.3 1170.8 1125.3 1169.5 1124.7 1175.6C1124.1 1181.7 1123.5 1188.5 1122.8 1195.0C1122.1 1201.5 1121.4 1207.8 1120.8 1214.3C1120.2 1220.8 1118.9 1227.9 1118.9 1233.7C1118.9 1239.5 1119.2 1244.7 1120.8 1249.2C1122.4 1253.7 1126.3 1256.9 1128.6 1260.8C1130.9 1264.7 1133.1 1268.5 1134.4 1272.4C1135.7 1276.3 1135.8 1280.5 1136.3 1284.1C1136.8 1287.7 1136.7 1287.8 1137.3 1293.8C1137.9 1299.8 1124.5 1315.6 1140.0 1320.0C1155.5 1324.4 1215.0 1356.7 1230.0 1320.0C1245.0 1283.3 1247.2 1136.7 1230.0 1100.0C1212.8 1063.3 1143.8 1090.3 1126.6 1100.0Z" fill="url(#hLime)" clip-path="url(#clipAM)"/>
<g fill="none" stroke="#1f4f9c" stroke-width="4.3" stroke-linejoin="round">
<path d="M646.0 1149.0C645.2 1146.8 643.6 1141.1 641.4 1136.1C639.2 1131.0 635.0 1123.3 632.6 1118.7C630.2 1114.1 630.7 1111.4 626.8 1108.5C622.9 1105.6 615.7 1103.4 609.4 1101.2C603.1 1099.0 594.7 1098.3 589.1 1095.4C583.5 1092.5 578.7 1088.2 576.0 1083.8C573.3 1079.4 572.4 1072.9 573.1 1069.3C573.8 1065.7 578.6 1064.7 580.3 1062.0C582.0 1059.3 583.2 1056.0 583.2 1053.3C583.2 1050.6 580.3 1048.2 580.3 1046.0C580.3 1043.8 580.8 1041.4 583.2 1040.2C585.6 1039.0 590.0 1038.5 594.9 1038.8C599.8 1039.0 607.9 1042.0 612.3 1041.7C616.6 1041.5 618.6 1039.5 621.0 1037.3C623.4 1035.1 626.5 1031.8 626.8 1028.6C627.0 1025.4 623.5 1021.8 622.5 1018.4C621.5 1015.0 620.5 1012.9 621.0 1008.3C621.5 1003.7 624.2 995.4 625.4 990.8C626.6 986.2 626.6 983.1 628.3 980.7C630.0 978.3 631.4 977.3 635.5 976.3C639.6 975.3 648.1 975.8 653.0 974.8C657.9 973.8 661.5 972.2 664.6 970.5C667.8 968.8 670.5 967.6 671.9 964.7C673.3 961.8 672.6 956.9 673.3 953.0C674.0 949.1 674.8 944.0 676.2 941.4C677.7 938.8 678.6 938.5 682.0 937.1C685.4 935.7 692.7 934.2 696.6 932.7C700.5 931.2 702.9 930.3 705.3 928.4C707.7 926.5 710.1 923.8 711.1 921.1C712.1 918.4 710.1 914.8 711.1 912.4C712.1 910.0 714.5 908.0 716.9 906.6C719.3 905.2 722.7 904.2 725.6 903.7C728.5 903.2 730.9 904.7 734.3 903.7C737.7 902.7 741.1 899.8 746.0 897.8C750.9 895.8 757.1 893.7 763.4 892.0C769.7 890.3 776.4 888.4 783.7 887.7C791.0 887.0 801.7 888.7 807.0 887.7C812.3 886.7 814.2 885.5 815.7 881.9C817.2 878.3 816.7 871.5 815.7 865.9C814.7 860.3 811.8 853.2 809.9 848.4C808.0 843.5 807.0 839.7 804.1 836.8C801.2 833.9 796.3 832.5 792.4 831.0C788.5 829.5 783.4 829.8 780.8 828.1C778.1 826.4 777.2 824.2 776.5 820.8C775.8 817.4 775.8 811.7 776.5 807.8C777.2 803.9 776.7 800.4 780.8 797.6C784.9 794.8 796.6 791.4 801.2 790.9C805.8 790.4 805.0 792.1 808.4 794.7C811.8 797.3 816.2 803.1 821.5 806.3C826.8 809.4 836.0 813.8 840.4 813.6C844.8 813.4 845.9 807.8 847.6 804.9C849.3 802.0 849.1 798.0 850.6 796.1C852.1 794.2 852.0 794.4 856.4 793.2C860.8 792.0 871.9 788.6 876.7 788.9C881.5 789.1 882.5 791.6 885.4 794.7C888.3 797.9 890.2 803.2 894.1 807.8C898.0 812.4 904.8 819.1 908.7 822.3C912.6 825.4 915.2 823.8 917.4 826.7C919.6 829.6 920.7 834.6 921.7 839.7C922.7 844.8 921.0 852.4 923.2 857.2C925.4 862.1 930.0 865.2 934.8 868.8C939.6 872.4 946.4 876.3 952.2 879.0C958.0 881.7 964.9 883.8 969.7 884.8C974.6 885.8 977.4 883.6 981.3 884.8C985.2 886.0 990.5 888.4 992.9 892.0C995.3 895.6 994.8 901.8 995.8 906.6C996.8 911.5 996.8 916.8 998.7 921.1C1000.7 925.5 1005.0 929.9 1007.5 932.7C1010.0 935.5 1012.4 936.1 1013.5 938.1C1014.6 940.1 1015.2 943.0 1014.3 944.5C1013.4 946.0 1010.8 946.9 1008.0 947.0C1005.2 947.1 1000.6 944.4 997.4 945.0C994.2 945.6 992.1 947.7 989.0 950.8C985.9 953.9 980.7 961.4 979.0 963.5C977.5 964.4 974.5 965.9 970.2 968.8C965.9 971.7 958.9 976.8 953.2 980.7C947.6 984.7 941.2 989.1 936.3 992.5C931.4 995.9 927.9 997.3 923.6 1001.0C919.4 1004.7 914.3 1009.5 910.8 1014.6C907.3 1019.7 905.2 1027.5 902.4 1031.5C899.6 1035.5 898.0 1036.5 893.9 1038.3C889.8 1040.1 883.0 1042.2 878.0 1042.5C873.0 1042.8 868.9 1041.7 863.9 1040.1C858.9 1038.5 853.4 1035.8 848.2 1033.0C843.0 1030.2 836.7 1025.8 832.5 1023.6C828.3 1021.4 825.2 1019.7 823.0 1019.7C820.8 1019.7 820.0 1021.4 819.1 1023.6C818.2 1025.8 818.4 1030.6 817.5 1033.0C816.6 1035.4 815.8 1037.1 813.6 1037.8C811.4 1038.5 807.0 1036.5 804.1 1037.0C801.2 1037.5 797.9 1038.7 796.3 1040.9C794.7 1043.1 794.7 1047.0 794.7 1050.4C794.7 1053.8 796.8 1058.8 796.3 1061.4C795.8 1064.0 793.6 1065.8 791.5 1066.1C789.4 1066.4 786.6 1065.1 783.7 1063.0C780.8 1060.9 777.1 1056.4 774.2 1053.5C771.3 1050.6 769.0 1047.6 766.4 1045.6C763.8 1043.6 761.4 1042.0 758.5 1041.7C755.6 1041.5 752.4 1042.1 749.0 1044.1C745.6 1046.1 742.5 1049.3 738.0 1053.5C733.5 1057.7 727.0 1064.2 722.3 1069.2C717.6 1074.2 713.0 1079.2 709.7 1083.4C706.4 1087.6 703.4 1091.2 702.6 1094.4C701.8 1097.6 704.6 1099.2 705.0 1102.3C705.4 1105.4 705.8 1110.1 705.0 1113.3C704.2 1116.5 702.7 1120.7 700.3 1121.2C697.9 1121.7 693.4 1117.5 690.8 1116.5C688.2 1115.5 685.5 1113.9 684.5 1114.9C683.5 1116.0 683.2 1119.7 684.5 1122.8C685.8 1125.9 689.5 1130.7 692.4 1133.8C695.3 1136.9 699.7 1139.2 701.8 1141.6C703.9 1143.9 706.8 1146.6 705.0 1147.9C703.2 1149.2 697.1 1149.8 690.8 1149.5C684.5 1149.2 674.7 1146.5 667.2 1146.4C659.7 1146.3 649.5 1148.6 646.0 1149.0Z"/>
<path d="M391.1 1260.8C391.3 1260.1 390.6 1259.4 392.5 1256.5C394.4 1253.6 399.6 1248.0 402.7 1243.4C405.8 1238.8 410.9 1233.3 411.4 1228.9C411.9 1224.5 408.5 1220.8 405.6 1217.2C402.7 1213.6 397.9 1210.2 394.0 1207.1C390.1 1204.0 385.1 1202.0 382.4 1198.4C379.7 1194.8 379.0 1190.4 378.0 1185.3C377.0 1180.2 377.3 1173.1 376.6 1167.8C375.9 1162.5 375.2 1156.7 373.7 1153.3C372.2 1149.9 369.8 1149.9 367.8 1147.5C365.9 1145.1 363.4 1142.7 362.0 1138.8C360.6 1134.9 359.1 1128.4 359.1 1124.3C359.1 1120.2 361.0 1116.5 362.0 1114.1C363.0 1111.7 362.5 1110.8 364.9 1109.7C367.3 1108.6 372.2 1107.5 376.6 1107.4C381.0 1107.3 387.2 1107.9 391.1 1109.2C395.0 1110.5 397.4 1112.5 399.8 1115.5C402.2 1118.5 403.9 1123.8 405.6 1127.2C407.3 1130.6 408.1 1134.9 410.0 1135.9C411.9 1136.9 414.1 1134.0 417.2 1133.0C420.3 1132.0 424.5 1131.1 428.9 1130.1C433.3 1129.1 440.3 1128.7 443.4 1127.2C446.5 1125.8 448.7 1123.6 447.7 1121.4C446.7 1119.2 441.2 1116.0 437.6 1114.1C434.0 1112.1 428.7 1111.9 426.0 1109.7C423.3 1107.5 421.6 1104.9 421.6 1101.0C421.6 1097.1 423.3 1090.6 426.0 1086.5C428.7 1082.4 434.0 1078.3 437.6 1076.3C441.2 1074.3 444.6 1074.0 447.7 1074.3C450.8 1074.5 454.3 1075.8 456.5 1077.8C458.7 1079.8 460.3 1083.1 460.8 1086.5C461.3 1089.9 460.1 1094.2 459.4 1098.1C458.7 1102.0 456.5 1106.8 456.5 1109.7C456.5 1112.6 457.2 1114.3 459.4 1115.5C461.6 1116.7 465.9 1116.3 469.5 1117.0C473.1 1117.7 477.8 1120.4 481.2 1119.9C484.6 1119.4 487.5 1115.5 489.9 1114.1C492.3 1112.6 494.2 1110.5 495.7 1111.2C497.1 1111.9 497.6 1114.8 498.6 1118.4C499.6 1122.0 499.8 1129.4 501.5 1133.0C503.2 1136.6 505.7 1138.5 508.8 1140.2C511.9 1141.9 516.8 1142.8 520.4 1143.1C524.0 1143.3 527.0 1141.5 530.6 1141.7C534.2 1142.0 538.3 1143.6 542.2 1144.6C546.1 1145.6 550.9 1145.8 553.8 1147.5C556.7 1149.2 557.7 1151.9 559.6 1154.8C561.5 1157.7 563.0 1162.2 565.4 1164.9C567.8 1167.6 570.7 1168.3 574.1 1170.7C577.5 1173.1 582.1 1177.9 585.8 1179.5C589.4 1181.1 594.3 1180.3 596.0 1180.5C595.9 1182.1 594.9 1186.5 595.6 1190.0C596.3 1193.5 599.1 1197.2 600.3 1201.5C601.5 1205.8 602.8 1211.0 603.0 1215.6C603.2 1220.2 601.9 1225.1 601.5 1229.3C601.1 1233.5 599.4 1237.0 600.5 1240.5C601.6 1244.0 604.9 1247.2 608.0 1250.0C611.1 1252.8 617.3 1254.3 619.3 1257.0C621.3 1259.7 621.1 1262.3 620.0 1266.0C618.9 1269.7 614.2 1275.5 612.5 1279.0C610.8 1282.5 609.8 1285.0 609.5 1287.0C609.2 1289.0 610.8 1290.3 611.0 1291.0C611.4 1291.4 612.1 1293.4 613.5 1293.4C614.9 1293.4 616.9 1291.5 619.3 1290.8C621.7 1290.1 625.0 1288.9 627.8 1289.2C630.6 1289.5 633.5 1290.8 636.3 1292.5C639.1 1294.2 641.6 1296.9 644.7 1299.3C647.8 1301.7 652.8 1304.6 654.9 1307.0C657.0 1309.4 656.4 1311.5 657.5 1313.7C658.6 1316.0 659.9 1318.8 661.7 1320.5C663.5 1322.2 667.0 1323.2 668.5 1323.9C670.0 1324.6 670.6 1324.6 671.0 1324.7C670.9 1325.7 670.3 1329.7 670.2 1330.7C668.8 1331.7 664.5 1335.0 661.7 1336.6C658.9 1338.1 656.7 1338.6 653.2 1340.0C649.7 1341.4 644.0 1343.1 640.5 1345.1C637.0 1347.1 634.8 1350.4 632.0 1351.9C629.2 1353.5 627.1 1354.1 623.6 1354.4C620.1 1354.7 615.8 1354.6 610.8 1353.6C605.8 1352.6 599.5 1350.5 593.9 1348.5C588.3 1346.5 582.6 1344.0 577.0 1341.7C571.4 1339.4 567.7 1337.2 560.0 1334.9C552.3 1332.6 537.9 1329.0 530.6 1327.6C523.3 1326.1 521.8 1327.7 516.0 1326.2C510.2 1324.8 502.0 1322.1 495.7 1318.9C489.4 1315.8 484.1 1311.7 478.3 1307.3C472.5 1302.9 466.6 1297.6 460.8 1292.8C455.0 1288.0 449.2 1282.2 443.4 1278.3C437.6 1274.4 431.8 1271.9 426.0 1269.5C420.2 1267.1 414.3 1265.2 408.5 1263.7C402.7 1262.2 394.0 1261.3 391.1 1260.8Z"/>
<path d="M646.0 1149.0C649.5 1148.6 659.7 1146.3 667.2 1146.4C674.7 1146.5 684.5 1149.2 690.8 1149.5C697.1 1149.8 703.2 1149.2 705.0 1147.9C706.8 1146.6 703.9 1143.9 701.8 1141.6C699.7 1139.2 695.3 1136.9 692.4 1133.8C689.5 1130.7 685.8 1125.9 684.5 1122.8C683.2 1119.7 683.5 1116.0 684.5 1114.9C685.5 1113.9 688.2 1115.5 690.8 1116.5C693.4 1117.5 697.9 1121.7 700.3 1121.2C702.7 1120.7 704.2 1116.5 705.0 1113.3C705.8 1110.1 705.4 1105.4 705.0 1102.3C704.6 1099.2 701.8 1097.6 702.6 1094.4C703.4 1091.2 706.4 1087.6 709.7 1083.4C713.0 1079.2 717.6 1074.2 722.3 1069.2C727.0 1064.2 733.5 1057.7 738.0 1053.5C742.5 1049.3 745.6 1046.1 749.0 1044.1C752.4 1042.1 755.6 1041.5 758.5 1041.7C761.4 1042.0 763.8 1043.6 766.4 1045.6C769.0 1047.6 771.3 1050.6 774.2 1053.5C777.1 1056.4 780.8 1060.9 783.7 1063.0C786.6 1065.1 789.4 1066.4 791.5 1066.1C793.6 1065.8 795.8 1064.0 796.3 1061.4C796.8 1058.8 794.7 1053.8 794.7 1050.4C794.7 1047.0 794.7 1043.1 796.3 1040.9C797.9 1038.7 801.2 1037.5 804.1 1037.0C807.0 1036.5 811.4 1038.5 813.6 1037.8C815.8 1037.1 816.6 1035.4 817.5 1033.0C818.4 1030.6 818.2 1025.8 819.1 1023.6C820.0 1021.4 820.8 1019.7 823.0 1019.7C825.2 1019.7 828.3 1021.4 832.5 1023.6C836.7 1025.8 843.0 1030.2 848.2 1033.0C853.4 1035.8 858.9 1038.5 863.9 1040.1C868.9 1041.7 873.0 1042.8 878.0 1042.5C883.0 1042.2 889.8 1040.1 893.9 1038.3C898.0 1036.5 899.6 1035.5 902.4 1031.5C905.2 1027.5 907.3 1019.7 910.8 1014.6C914.3 1009.5 919.4 1004.7 923.6 1001.0C927.9 997.3 931.4 995.9 936.3 992.5C941.2 989.1 947.6 984.7 953.2 980.7C958.9 976.8 965.9 971.7 970.2 968.8C974.5 965.9 977.5 964.4 979.0 963.5C979.6 964.0 981.7 964.8 982.5 966.5C983.3 968.2 984.6 970.4 983.7 973.9C982.8 977.4 979.4 983.3 976.9 987.5C974.4 991.7 970.3 995.2 968.5 999.3C966.7 1003.4 965.8 1008.0 965.9 1012.0C966.0 1016.0 967.6 1019.5 969.3 1023.0C971.0 1026.5 974.7 1029.7 976.1 1033.2C977.5 1036.7 978.2 1041.4 977.8 1044.2C977.4 1047.0 974.8 1047.8 973.5 1050.0C972.2 1052.2 970.8 1054.9 969.9 1057.3C969.0 1059.7 969.0 1062.0 968.4 1064.5C967.8 1067.0 966.6 1071.2 966.3 1072.5C965.7 1073.1 964.4 1074.4 962.6 1076.1C960.8 1077.8 957.8 1080.2 955.4 1082.7C953.0 1085.2 949.9 1088.6 948.1 1091.4C946.3 1094.2 946.3 1096.6 944.5 1099.4C942.7 1102.2 939.6 1105.4 937.2 1108.1C934.8 1110.8 932.0 1112.4 930.0 1115.4C928.0 1118.4 926.4 1122.7 924.9 1126.3C923.4 1129.9 921.8 1133.0 921.2 1137.2C920.6 1141.4 920.6 1147.5 921.2 1151.7C921.8 1155.9 923.1 1159.0 924.9 1162.6C926.7 1166.2 929.9 1170.5 932.1 1173.5C934.3 1176.5 936.5 1177.8 937.9 1180.7C939.3 1183.6 939.9 1188.1 940.5 1191.0C941.1 1193.9 940.7 1195.8 941.5 1198.0C942.3 1200.2 943.5 1202.6 945.4 1204.5C947.2 1206.4 950.2 1207.8 952.6 1209.6C955.0 1211.4 957.7 1213.3 959.9 1215.4C962.1 1217.5 964.2 1220.1 965.7 1222.0C967.2 1223.9 967.2 1225.7 968.6 1227.0C970.0 1228.3 972.2 1228.5 974.4 1230.0C976.6 1231.5 979.5 1233.8 981.7 1235.8C983.9 1237.8 986.4 1240.2 987.5 1242.3C988.6 1244.3 988.7 1246.6 988.2 1248.1C987.7 1249.5 986.3 1250.6 984.6 1251.0C982.9 1251.4 980.4 1250.9 978.1 1250.3C975.8 1249.7 973.2 1248.2 970.8 1247.4C968.4 1246.6 965.9 1245.3 963.5 1245.2C961.1 1245.1 958.7 1245.5 956.3 1246.7C953.9 1247.9 951.4 1250.7 949.0 1252.5C946.6 1254.3 944.1 1256.4 941.7 1257.6C939.3 1258.8 936.9 1259.2 934.5 1259.7C932.1 1260.2 928.8 1259.8 927.2 1260.5C925.6 1261.2 925.2 1262.5 925.0 1264.1C924.8 1265.7 926.0 1268.1 925.8 1269.9C925.6 1271.7 924.0 1273.2 923.6 1275.0C923.2 1276.8 923.2 1279.2 923.6 1280.8C924.0 1282.4 926.3 1283.0 925.8 1284.4C925.3 1285.9 921.6 1288.7 920.7 1289.5C919.7 1289.6 917.5 1290.4 914.9 1290.2C912.3 1290.0 908.2 1288.2 905.4 1288.1C902.6 1288.0 900.6 1288.7 898.2 1289.5C895.8 1290.3 893.0 1292.6 890.9 1293.1C888.8 1293.6 887.8 1292.8 885.8 1292.4C883.8 1292.0 881.8 1290.6 879.0 1290.5C876.2 1290.4 872.6 1290.5 868.8 1291.8C865.0 1293.1 859.5 1295.3 856.1 1298.1C852.7 1300.8 850.6 1305.5 848.5 1308.3C846.4 1311.1 845.9 1314.3 843.4 1314.7C840.9 1315.1 837.4 1312.9 833.2 1310.8C829.0 1308.7 823.1 1304.5 818.0 1302.0C812.9 1299.5 807.0 1296.0 802.7 1295.6C798.5 1295.2 795.5 1297.3 792.5 1299.4C789.5 1301.5 788.3 1305.5 784.9 1308.3C781.5 1311.0 776.0 1313.4 772.2 1315.9C768.4 1318.5 765.4 1320.2 762.0 1323.6C758.6 1327.0 754.9 1333.5 751.9 1336.3C748.9 1339.0 746.8 1340.1 744.2 1340.1C741.7 1340.1 739.6 1337.8 736.6 1336.3C733.6 1334.8 729.4 1332.9 726.4 1331.2C723.4 1329.5 720.9 1328.0 718.8 1326.1C716.7 1324.2 716.3 1320.2 713.7 1319.7C711.1 1319.2 705.7 1321.7 703.0 1323.0C700.3 1324.3 699.1 1326.9 697.3 1327.3C695.5 1327.7 693.9 1326.9 692.2 1325.6C690.5 1324.3 689.1 1321.1 687.1 1319.7C685.1 1318.3 682.5 1317.2 680.3 1317.1C678.0 1316.9 675.1 1317.5 673.6 1318.8C672.1 1320.1 671.4 1323.7 671.0 1324.7C670.6 1324.6 670.0 1324.6 668.5 1323.9C667.0 1323.2 663.5 1322.2 661.7 1320.5C659.9 1318.8 658.6 1316.0 657.5 1313.7C656.4 1311.5 657.0 1309.4 654.9 1307.0C652.8 1304.6 647.8 1301.7 644.7 1299.3C641.6 1296.9 639.1 1294.2 636.3 1292.5C633.5 1290.8 630.6 1289.5 627.8 1289.2C625.0 1288.9 621.7 1290.1 619.3 1290.8C616.9 1291.5 614.9 1293.4 613.5 1293.4C612.1 1293.4 611.4 1291.4 611.0 1291.0C610.8 1290.3 609.2 1289.0 609.5 1287.0C609.8 1285.0 610.8 1282.5 612.5 1279.0C614.2 1275.5 618.9 1269.7 620.0 1266.0C621.1 1262.3 621.3 1259.7 619.3 1257.0C617.3 1254.3 611.1 1252.8 608.0 1250.0C604.9 1247.2 601.6 1244.0 600.5 1240.5C599.4 1237.0 601.1 1233.5 601.5 1229.3C601.9 1225.1 603.2 1220.2 603.0 1215.6C602.8 1211.0 601.5 1205.8 600.3 1201.5C599.1 1197.2 596.3 1193.5 595.6 1190.0C594.9 1186.5 595.9 1182.1 596.0 1180.5C596.4 1179.6 596.9 1177.0 598.5 1175.0C600.1 1173.0 603.0 1171.8 605.4 1168.6C607.8 1165.4 610.6 1158.7 613.0 1156.0C615.4 1153.3 617.3 1152.5 620.0 1152.7C622.7 1152.9 626.8 1157.3 629.4 1157.4C632.0 1157.5 632.9 1154.8 635.7 1153.4C638.5 1152.0 644.3 1149.7 646.0 1149.0Z"/>
<path d="M391.1 1260.8C394.0 1261.3 402.7 1262.2 408.5 1263.7C414.3 1265.2 420.2 1267.1 426.0 1269.5C431.8 1271.9 437.6 1274.4 443.4 1278.3C449.2 1282.2 455.0 1288.0 460.8 1292.8C466.6 1297.6 472.5 1302.9 478.3 1307.3C484.1 1311.7 489.4 1315.8 495.7 1318.9C502.0 1322.1 510.2 1324.8 516.0 1326.2C521.8 1327.7 523.3 1326.1 530.6 1327.6C537.9 1329.0 552.3 1332.6 560.0 1334.9C567.7 1337.2 571.4 1339.4 577.0 1341.7C582.6 1344.0 588.3 1346.5 593.9 1348.5C599.5 1350.5 605.8 1352.6 610.8 1353.6C615.8 1354.6 620.1 1354.7 623.6 1354.4C627.1 1354.1 629.2 1353.5 632.0 1351.9C634.8 1350.4 637.0 1347.1 640.5 1345.1C644.0 1343.1 649.7 1341.4 653.2 1340.0C656.7 1338.6 658.9 1338.1 661.7 1336.6C664.5 1335.0 668.8 1331.7 670.2 1330.7C671.1 1330.8 673.6 1330.2 675.3 1331.5C677.0 1332.8 679.0 1335.9 680.3 1338.3C681.6 1340.7 682.9 1343.8 682.9 1345.9C682.9 1348.0 682.4 1349.3 680.3 1351.0C678.2 1352.7 673.3 1354.6 670.2 1356.1C667.1 1357.6 664.4 1358.6 661.7 1360.0C659.0 1361.4 656.0 1362.4 654.0 1364.5C652.0 1366.6 650.2 1369.3 650.0 1372.5C649.8 1375.7 651.3 1380.3 652.6 1383.5C653.9 1386.7 656.4 1387.9 658.0 1391.5C659.6 1395.1 660.4 1400.4 662.0 1404.9C663.6 1409.4 665.6 1414.0 667.5 1418.5C669.4 1423.0 671.8 1427.5 673.5 1432.0C675.2 1436.5 677.5 1442.3 677.7 1445.4C677.9 1448.5 676.8 1449.3 674.8 1450.5C672.8 1451.7 668.2 1452.1 665.4 1452.7C662.6 1453.3 659.8 1453.2 658.1 1454.1C656.4 1454.9 655.9 1455.6 655.2 1457.8C654.5 1460.0 654.0 1464.0 653.8 1467.2C653.6 1470.4 653.3 1474.3 653.8 1476.7C654.3 1479.1 655.1 1480.1 656.7 1481.7C658.3 1483.3 661.0 1484.4 663.2 1486.1C665.4 1487.8 668.2 1489.9 669.7 1491.9C671.2 1494.0 671.9 1495.9 671.9 1498.4C671.9 1501.0 671.0 1504.7 669.7 1507.2C668.4 1509.8 665.8 1511.5 663.9 1513.7C662.0 1515.9 659.4 1517.9 658.1 1520.2C656.8 1522.5 656.4 1525.1 655.9 1527.5C655.4 1529.9 655.3 1533.6 655.2 1534.8C654.5 1534.9 652.7 1535.3 650.8 1535.5C648.9 1535.7 645.8 1535.5 643.6 1536.2C641.4 1536.9 639.4 1538.9 637.8 1539.9C636.2 1540.9 635.8 1541.9 634.1 1542.0C632.4 1542.1 630.2 1541.4 627.6 1540.6C625.0 1539.8 621.5 1538.2 618.2 1537.0C615.0 1535.8 611.6 1534.2 608.1 1533.1C604.6 1532.0 600.8 1530.9 597.2 1530.2C593.6 1529.5 589.9 1529.3 586.3 1528.8C582.7 1528.3 578.4 1528.1 575.4 1527.3C572.4 1526.5 569.9 1525.4 568.1 1523.7C566.3 1522.0 565.0 1519.8 564.5 1517.2C564.0 1514.7 565.3 1511.4 565.2 1508.4C565.1 1505.4 564.2 1502.0 563.8 1499.0C563.4 1496.0 563.7 1493.0 563.0 1490.3C562.3 1487.6 561.0 1485.1 559.4 1483.0C557.8 1480.9 555.8 1478.9 553.6 1477.9C551.4 1476.9 549.0 1476.8 546.3 1477.2C543.6 1477.6 541.2 1479.0 537.6 1480.1C534.0 1481.2 529.5 1483.2 524.5 1483.8C519.5 1484.3 513.1 1484.0 507.3 1483.4C501.5 1482.9 494.7 1482.0 489.9 1480.5C485.1 1479.0 481.7 1477.1 478.3 1474.7C474.9 1472.3 472.9 1468.9 469.5 1466.0C466.1 1463.1 462.2 1459.4 457.9 1457.2C453.5 1455.0 447.8 1453.1 443.4 1452.9C439.0 1452.7 434.7 1453.6 431.8 1455.8C428.9 1458.0 427.0 1461.9 426.0 1466.0C425.0 1470.1 427.0 1477.1 426.0 1480.5C425.0 1483.9 423.0 1485.6 420.1 1486.3C417.2 1487.0 412.9 1485.8 408.5 1484.8C404.1 1483.8 399.8 1481.7 394.0 1480.5C388.2 1479.3 380.0 1478.5 373.7 1477.6C367.4 1476.7 360.5 1476.1 356.2 1475.0C351.9 1473.9 350.3 1472.7 348.1 1471.0C345.9 1469.3 343.7 1467.1 343.1 1464.8C342.5 1462.5 344.7 1459.6 344.3 1457.3C343.9 1455.0 342.7 1453.1 340.6 1451.1C338.5 1449.0 334.8 1446.5 331.9 1445.0C329.0 1443.5 327.8 1442.7 323.2 1442.4C318.6 1442.1 311.8 1442.9 304.5 1443.0C297.2 1443.1 286.9 1443.3 279.6 1443.0C272.3 1442.7 265.9 1442.1 260.9 1441.2C255.9 1440.3 251.9 1438.9 249.7 1437.4C247.5 1435.9 247.0 1434.5 247.8 1432.4C248.6 1430.3 252.1 1427.1 254.7 1425.0C257.3 1422.9 260.0 1423.3 263.4 1420.0C266.8 1416.7 269.1 1409.4 274.9 1404.9C280.7 1400.5 291.8 1396.7 298.1 1393.3C304.4 1389.9 311.2 1388.0 312.6 1384.6C314.1 1381.2 306.8 1377.4 306.8 1373.0C306.8 1368.6 310.2 1362.3 312.6 1358.4C315.0 1354.5 317.5 1351.4 321.4 1349.7C325.3 1348.0 330.8 1348.5 335.9 1348.3C341.0 1348.1 348.5 1351.0 351.9 1348.3C355.3 1345.6 355.0 1337.9 356.2 1332.3C357.4 1326.7 358.1 1320.7 359.1 1314.9C360.1 1309.1 361.0 1302.5 362.0 1297.4C363.0 1292.3 363.9 1288.1 364.9 1284.4C365.9 1280.7 365.9 1278.3 367.8 1275.3C369.8 1272.3 372.7 1269.0 376.6 1266.6C380.5 1264.2 388.7 1261.8 391.1 1260.8Z"/>
<path d="M671.0 1324.7C671.4 1323.7 672.1 1320.1 673.6 1318.8C675.1 1317.5 678.0 1316.9 680.3 1317.1C682.5 1317.2 685.1 1318.3 687.1 1319.7C689.1 1321.1 690.5 1324.3 692.2 1325.6C693.9 1326.9 695.5 1327.7 697.3 1327.3C699.1 1326.9 700.3 1324.3 703.0 1323.0C705.7 1321.7 711.1 1319.2 713.7 1319.7C716.3 1320.2 716.7 1324.2 718.8 1326.1C720.9 1328.0 723.4 1329.5 726.4 1331.2C729.4 1332.9 733.6 1334.8 736.6 1336.3C739.6 1337.8 741.7 1340.1 744.2 1340.1C746.8 1340.1 748.9 1339.0 751.9 1336.3C754.9 1333.5 758.6 1327.0 762.0 1323.6C765.4 1320.2 768.4 1318.5 772.2 1315.9C776.0 1313.4 781.5 1311.0 784.9 1308.3C788.3 1305.5 789.5 1301.5 792.5 1299.4C795.5 1297.3 798.5 1295.2 802.7 1295.6C807.0 1296.0 812.9 1299.5 818.0 1302.0C823.1 1304.5 829.0 1308.7 833.2 1310.8C837.4 1312.9 840.9 1315.1 843.4 1314.7C845.9 1314.3 846.4 1311.1 848.5 1308.3C850.6 1305.5 852.7 1300.8 856.1 1298.1C859.5 1295.3 865.0 1293.1 868.8 1291.8C872.6 1290.5 876.2 1290.4 879.0 1290.5C881.8 1290.6 883.8 1292.0 885.8 1292.4C887.8 1292.8 888.8 1293.6 890.9 1293.1C893.0 1292.6 895.8 1290.3 898.2 1289.5C900.6 1288.7 902.6 1288.0 905.4 1288.1C908.2 1288.2 912.3 1290.0 914.9 1290.2C917.5 1290.4 919.7 1289.6 920.7 1289.5C920.0 1290.1 917.4 1291.5 916.3 1293.1C915.2 1294.7 914.1 1297.0 914.1 1299.0C914.1 1301.0 915.0 1303.5 916.3 1304.8C917.6 1306.1 919.8 1306.4 922.1 1307.0C924.4 1307.6 927.3 1308.0 930.0 1308.5C932.7 1309.0 936.0 1308.8 938.5 1310.2C941.0 1311.6 943.8 1314.4 945.3 1316.9C946.8 1319.4 947.4 1322.3 947.8 1325.4C948.2 1328.5 947.1 1332.8 947.8 1335.6C948.5 1338.4 950.0 1340.1 952.0 1342.4C954.0 1344.7 957.0 1347.4 959.7 1349.2C962.4 1351.0 964.9 1352.0 968.1 1353.4C971.4 1354.8 976.0 1356.3 979.2 1357.6C982.5 1358.9 985.9 1359.3 987.6 1361.0C989.3 1362.7 989.3 1365.2 989.3 1367.8C989.3 1370.3 988.2 1373.5 987.6 1376.3C987.0 1379.1 985.9 1381.9 985.9 1384.7C985.9 1387.5 986.6 1390.4 987.6 1393.2C988.6 1396.0 990.3 1399.3 991.9 1401.7C993.5 1404.1 996.1 1406.6 997.0 1407.6C997.0 1408.7 997.2 1411.9 996.9 1414.4C996.6 1417.0 996.6 1420.5 995.3 1422.9C994.0 1425.3 991.7 1427.2 989.3 1428.8C986.9 1430.3 983.6 1431.6 980.8 1432.2C978.0 1432.8 975.2 1432.6 972.4 1432.2C969.6 1431.8 966.7 1429.8 963.9 1429.7C961.1 1429.6 957.8 1430.1 955.4 1431.4C953.0 1432.7 951.2 1434.5 949.5 1437.3C947.8 1440.1 946.3 1445.0 945.1 1448.1C943.9 1451.2 943.8 1453.2 942.5 1455.8C941.2 1458.3 940.0 1460.9 937.5 1463.4C935.0 1465.9 930.3 1468.5 927.3 1471.0C924.3 1473.5 922.7 1476.0 919.7 1478.6C916.7 1481.1 911.6 1484.2 909.5 1486.3C907.4 1488.4 905.3 1491.0 907.0 1491.4C908.7 1491.8 915.5 1489.2 919.7 1488.8C923.9 1488.4 929.9 1487.7 932.4 1488.8C934.9 1489.9 935.3 1492.7 934.9 1495.2C934.5 1497.8 931.1 1500.5 929.8 1504.1C928.5 1507.7 928.6 1513.0 927.3 1516.8C926.0 1520.6 923.9 1524.9 922.2 1527.0C920.5 1529.1 918.8 1528.9 917.1 1529.5C915.4 1530.1 914.1 1531.2 912.0 1530.8C909.9 1530.4 906.9 1528.1 904.4 1527.0C901.9 1525.9 899.3 1524.0 896.8 1524.4C894.3 1524.8 892.2 1527.8 889.2 1529.5C886.2 1531.2 882.4 1533.3 879.0 1534.6C875.6 1535.9 872.2 1535.8 868.8 1537.1C865.4 1538.4 862.0 1539.7 858.6 1542.2C855.2 1544.8 850.6 1549.4 848.5 1552.4C846.4 1555.4 847.2 1558.3 845.9 1560.0C844.6 1561.7 842.9 1562.7 840.8 1562.5C838.7 1562.3 836.2 1559.5 833.2 1558.7C830.2 1557.9 826.0 1557.6 823.0 1557.4C820.0 1557.2 817.9 1557.0 815.4 1557.4C812.9 1557.8 810.3 1558.7 807.8 1560.0C805.3 1561.3 802.8 1563.0 800.2 1565.1C797.7 1567.2 794.2 1569.7 792.5 1572.7C790.8 1575.7 791.3 1580.6 790.0 1582.9C788.7 1585.2 787.0 1586.7 784.9 1586.7C782.8 1586.7 779.8 1584.8 777.3 1582.9C774.8 1581.0 772.7 1577.4 769.7 1575.3C766.7 1573.2 762.9 1571.0 759.5 1570.2C756.1 1569.4 753.1 1571.1 749.3 1570.2C745.5 1569.3 740.4 1566.4 736.6 1565.1C732.8 1563.8 729.8 1562.5 726.4 1562.5C723.0 1562.5 718.4 1563.0 716.3 1565.1C714.2 1567.2 715.0 1572.8 713.7 1575.3C712.4 1577.8 711.1 1579.5 708.6 1580.3C706.1 1581.1 701.0 1581.1 698.5 1580.3C696.0 1579.5 695.1 1577.8 693.4 1575.3C691.7 1572.8 689.9 1568.2 688.3 1565.1C686.6 1561.9 685.5 1558.4 683.5 1556.4C681.5 1554.4 679.3 1553.9 676.3 1552.9C673.3 1552.0 668.4 1551.7 665.4 1550.7C662.4 1549.7 659.8 1548.9 658.1 1547.1C656.4 1545.3 655.7 1542.0 655.2 1539.9C654.7 1537.9 655.2 1535.7 655.2 1534.8C655.3 1533.6 655.4 1529.9 655.9 1527.5C656.4 1525.1 656.8 1522.5 658.1 1520.2C659.4 1517.9 662.0 1515.9 663.9 1513.7C665.8 1511.5 668.4 1509.8 669.7 1507.2C671.0 1504.7 671.9 1501.0 671.9 1498.4C671.9 1495.9 671.2 1494.0 669.7 1491.9C668.2 1489.9 665.4 1487.8 663.2 1486.1C661.0 1484.4 658.3 1483.3 656.7 1481.7C655.1 1480.1 654.3 1479.1 653.8 1476.7C653.3 1474.3 653.6 1470.4 653.8 1467.2C654.0 1464.0 654.5 1460.0 655.2 1457.8C655.9 1455.6 656.4 1454.9 658.1 1454.1C659.8 1453.2 662.6 1453.3 665.4 1452.7C668.2 1452.1 672.8 1451.7 674.8 1450.5C676.8 1449.3 677.9 1448.5 677.7 1445.4C677.5 1442.3 675.2 1436.5 673.5 1432.0C671.8 1427.5 669.4 1423.0 667.5 1418.5C665.6 1414.0 663.6 1409.4 662.0 1404.9C660.4 1400.4 659.6 1395.1 658.0 1391.5C656.4 1387.9 653.9 1386.7 652.6 1383.5C651.3 1380.3 649.8 1375.7 650.0 1372.5C650.2 1369.3 652.0 1366.6 654.0 1364.5C656.0 1362.4 659.0 1361.4 661.7 1360.0C664.4 1358.6 667.1 1357.6 670.2 1356.1C673.3 1354.6 678.2 1352.7 680.3 1351.0C682.4 1349.3 682.9 1348.0 682.9 1345.9C682.9 1343.8 681.6 1340.7 680.3 1338.3C679.0 1335.9 677.0 1332.8 675.3 1331.5C673.6 1330.2 671.1 1330.8 670.2 1330.7C670.3 1329.7 670.9 1325.7 671.0 1324.7Z"/>
<path d="M920.7 1289.5C921.6 1288.7 925.3 1285.9 925.8 1284.4C926.3 1283.0 924.0 1282.4 923.6 1280.8C923.2 1279.2 923.2 1276.8 923.6 1275.0C924.0 1273.2 925.6 1271.7 925.8 1269.9C926.0 1268.1 924.8 1265.7 925.0 1264.1C925.2 1262.5 925.6 1261.2 927.2 1260.5C928.8 1259.8 932.1 1260.2 934.5 1259.7C936.9 1259.2 939.3 1258.8 941.7 1257.6C944.1 1256.4 946.6 1254.3 949.0 1252.5C951.4 1250.7 953.9 1247.9 956.3 1246.7C958.7 1245.5 961.1 1245.1 963.5 1245.2C965.9 1245.3 968.4 1246.6 970.8 1247.4C973.2 1248.2 975.8 1249.7 978.1 1250.3C980.4 1250.9 982.9 1251.4 984.6 1251.0C986.3 1250.6 987.7 1249.5 988.2 1248.1C988.7 1246.6 988.6 1244.3 987.5 1242.3C986.4 1240.2 983.9 1237.8 981.7 1235.8C979.5 1233.8 976.6 1231.5 974.4 1230.0C972.2 1228.5 970.0 1228.3 968.6 1227.0C967.2 1225.7 967.2 1223.9 965.7 1222.0C964.2 1220.1 962.1 1217.5 959.9 1215.4C957.7 1213.3 955.0 1211.4 952.6 1209.6C950.2 1207.8 947.2 1206.4 945.4 1204.5C943.5 1202.6 942.3 1200.2 941.5 1198.0C940.7 1195.8 941.1 1193.9 940.5 1191.0C939.9 1188.1 939.3 1183.6 937.9 1180.7C936.5 1177.8 934.3 1176.5 932.1 1173.5C929.9 1170.5 926.7 1166.2 924.9 1162.6C923.1 1159.0 921.8 1155.9 921.2 1151.7C920.6 1147.5 920.6 1141.4 921.2 1137.2C921.8 1133.0 923.4 1129.9 924.9 1126.3C926.4 1122.7 928.0 1118.4 930.0 1115.4C932.0 1112.4 934.8 1110.8 937.2 1108.1C939.6 1105.4 942.7 1102.2 944.5 1099.4C946.3 1096.6 946.3 1094.2 948.1 1091.4C949.9 1088.6 953.0 1085.2 955.4 1082.7C957.8 1080.2 960.8 1077.8 962.6 1076.1C964.4 1074.4 965.7 1073.1 966.3 1072.5C966.9 1072.8 968.3 1073.6 969.9 1074.0C971.5 1074.4 973.5 1073.9 975.7 1074.7C977.9 1075.5 980.8 1076.9 983.0 1079.1C985.2 1081.3 987.1 1085.1 988.8 1087.8C990.5 1090.5 991.4 1093.1 993.1 1095.0C994.8 1096.9 997.4 1097.5 999.0 1099.4C1000.6 1101.4 1001.4 1104.0 1002.6 1106.7C1003.8 1109.4 1004.6 1113.4 1006.2 1115.4C1007.8 1117.4 1009.4 1117.8 1012.0 1118.5C1014.6 1119.2 1018.1 1118.6 1022.0 1119.4C1025.9 1120.2 1031.1 1121.8 1035.6 1123.3C1040.1 1124.8 1046.0 1127.0 1049.2 1128.1C1052.4 1129.2 1052.4 1129.0 1055.0 1130.1C1057.6 1131.2 1061.4 1133.1 1064.6 1134.9C1067.8 1136.7 1070.7 1138.6 1074.3 1140.7C1077.9 1142.8 1082.8 1146.2 1086.0 1147.5C1089.2 1148.8 1091.5 1147.8 1093.7 1148.5C1096.0 1149.2 1097.6 1150.1 1099.5 1151.4C1101.4 1152.7 1103.0 1154.9 1105.3 1156.2C1107.6 1157.5 1110.5 1158.8 1113.1 1159.1C1115.7 1159.4 1118.2 1159.0 1120.8 1158.2C1123.4 1157.4 1125.0 1155.6 1128.6 1154.3C1132.1 1153.0 1137.6 1151.7 1142.1 1150.4C1146.6 1149.1 1150.8 1148.1 1155.7 1146.5C1160.6 1144.9 1167.3 1142.6 1171.2 1140.7C1175.1 1138.8 1176.5 1136.2 1178.9 1134.9C1181.3 1133.6 1183.8 1132.6 1185.7 1132.6C1187.7 1132.6 1189.5 1133.2 1190.6 1134.9C1191.7 1136.6 1191.5 1140.1 1192.5 1142.7C1193.5 1145.3 1195.1 1147.8 1196.4 1150.4C1197.7 1153.0 1199.6 1155.6 1200.2 1158.2C1200.8 1160.8 1200.5 1163.0 1200.2 1165.9C1199.9 1168.8 1199.6 1172.4 1198.3 1175.6C1197.0 1178.8 1194.1 1182.4 1192.5 1185.3C1190.9 1188.2 1189.2 1190.4 1188.6 1193.0C1187.9 1195.6 1189.6 1198.2 1188.6 1200.8C1187.6 1203.4 1185.0 1206.2 1182.8 1208.5C1180.5 1210.8 1177.3 1212.7 1175.1 1214.3C1172.8 1215.9 1170.6 1216.2 1169.3 1218.2C1168.0 1220.2 1168.6 1223.4 1167.3 1226.0C1166.0 1228.6 1163.8 1231.5 1161.5 1233.7C1159.2 1236.0 1155.4 1236.9 1153.8 1239.5C1152.2 1242.1 1151.8 1245.3 1151.8 1249.2C1151.8 1253.1 1153.8 1258.9 1153.8 1262.8C1153.8 1266.7 1152.1 1268.9 1151.8 1272.4C1151.5 1276.0 1152.8 1280.5 1151.8 1284.1C1150.8 1287.7 1148.2 1291.9 1146.0 1293.8C1143.8 1295.7 1140.6 1294.7 1138.3 1295.7C1136.0 1296.7 1134.4 1298.0 1132.4 1299.6C1130.5 1301.2 1128.8 1303.8 1126.6 1305.4C1124.3 1307.0 1121.5 1308.0 1118.9 1309.3C1116.3 1310.6 1113.0 1311.5 1111.1 1313.1C1109.2 1314.7 1108.6 1317.0 1107.3 1318.9C1106.0 1320.8 1105.7 1323.7 1103.4 1324.7C1101.1 1325.7 1096.6 1325.3 1093.7 1324.7C1090.8 1324.1 1088.3 1320.9 1086.0 1320.9C1083.7 1320.9 1082.0 1323.1 1080.1 1324.7C1078.1 1326.3 1076.2 1328.6 1074.3 1330.6C1072.4 1332.5 1070.5 1335.2 1068.5 1336.4C1066.5 1337.7 1064.1 1337.1 1062.2 1338.1C1060.3 1339.1 1058.6 1340.3 1057.1 1342.4C1055.5 1344.5 1053.8 1348.0 1052.9 1350.8C1052.1 1353.6 1051.9 1356.8 1052.0 1359.3C1052.1 1361.8 1053.0 1364.0 1053.7 1366.1C1054.4 1368.2 1056.2 1370.3 1056.3 1372.0C1056.4 1373.7 1055.9 1375.9 1054.6 1376.3C1053.3 1376.7 1050.3 1375.2 1048.6 1374.6C1046.9 1374.0 1046.5 1372.6 1044.4 1372.9C1042.3 1373.2 1038.7 1375.2 1035.9 1376.3C1033.1 1377.4 1030.3 1378.8 1027.5 1379.7C1024.7 1380.6 1022.0 1380.4 1019.0 1381.4C1016.0 1382.4 1012.2 1384.0 1009.7 1385.6C1007.2 1387.1 1004.8 1389.2 1003.7 1390.7C1002.6 1392.2 1002.6 1393.5 1002.9 1394.9C1003.2 1396.3 1005.1 1397.7 1005.4 1399.2C1005.7 1400.8 1005.5 1402.9 1004.6 1404.2C1003.8 1405.5 1001.6 1406.2 1000.3 1406.8C999.0 1407.4 997.5 1407.5 997.0 1407.6C996.1 1406.6 993.5 1404.1 991.9 1401.7C990.3 1399.3 988.6 1396.0 987.6 1393.2C986.6 1390.4 985.9 1387.5 985.9 1384.7C985.9 1381.9 987.0 1379.1 987.6 1376.3C988.2 1373.5 989.3 1370.3 989.3 1367.8C989.3 1365.2 989.3 1362.7 987.6 1361.0C985.9 1359.3 982.5 1358.9 979.2 1357.6C976.0 1356.3 971.4 1354.8 968.1 1353.4C964.9 1352.0 962.4 1351.0 959.7 1349.2C957.0 1347.4 954.0 1344.7 952.0 1342.4C950.0 1340.1 948.5 1338.4 947.8 1335.6C947.1 1332.8 948.2 1328.5 947.8 1325.4C947.4 1322.3 946.8 1319.4 945.3 1316.9C943.8 1314.4 941.0 1311.6 938.5 1310.2C936.0 1308.8 932.7 1309.0 930.0 1308.5C927.3 1308.0 924.4 1307.6 922.1 1307.0C919.8 1306.4 917.6 1306.1 916.3 1304.8C915.0 1303.5 914.1 1301.0 914.1 1299.0C914.1 1297.0 915.2 1294.7 916.3 1293.1C917.4 1291.5 920.0 1290.1 920.7 1289.5Z"/>
</g>
<circle cx="840.5" cy="683.2" r="27.1" fill="#97cb73" stroke="#1f4f9c" stroke-width="4.2"/>
<circle cx="239.1" cy="936.8" r="27.1" fill="#72c38c" stroke="#1f4f9c" stroke-width="4.2"/>
<circle cx="1121.4" cy="977.8" r="27.1" fill="#8a8fc8" stroke="#1f4f9c" stroke-width="4.2"/>
<circle cx="1310.4" cy="1117.0" r="27.1" fill="url(#cLime)" stroke="#1f4f9c" stroke-width="4.2"/>
<circle cx="1214.4" cy="1359.8" r="27.1" fill="url(#cCoral)" stroke="#1f4f9c" stroke-width="4.2"/>
<circle cx="1064.0" cy="1614.7" r="27.1" fill="#3d6bb4" stroke="#1f4f9c" stroke-width="4.2"/>
<circle cx="815.7" cy="1830.2" r="27.1" fill="#6bbfdc" stroke="#1f4f9c" stroke-width="4.2"/>
<circle cx="627.2" cy="2098.2" r="27.1" fill="url(#cBlue)" stroke="#1f4f9c" stroke-width="4.2"/>
<circle cx="231.0" cy="1658.4" r="27.1" fill="#f26750" stroke="#1f4f9c" stroke-width="4.2"/>
<text x="727.5" y="973.4" font-size="21.8" fill="#111" stroke="#111" stroke-width="0.6" textLength="46.6" lengthAdjust="spacing">GAP</text>
<circle cx="754.1" cy="993.7" r="5.6" fill="#000"/>
<text x="711.7" y="1152.1" font-size="21.8" fill="#111" stroke="#111" stroke-width="0.6" textLength="200.6" lengthAdjust="spacing">DIGNE-LES BAINS</text>
<circle cx="793.6" cy="1166.1" r="5.6" fill="#000"/>
<text x="413.8" y="1230.3" font-size="21.8" fill="#111" stroke="#111" stroke-width="0.6" textLength="110.0" lengthAdjust="spacing">AVIGNON</text>
<circle cx="426.0" cy="1246.9" r="5.6" fill="#000"/>
<text x="401.6" y="1371.8" font-size="21.8" fill="#111" stroke="#111" stroke-width="0.6" textLength="216.6" lengthAdjust="spacing">AIX-EN-PROVENCE</text>
<circle cx="561.6" cy="1378.5" r="5.6" fill="#000"/>
<text x="538.8" y="1474.1" font-size="21.8" fill="#111" stroke="#111" stroke-width="0.6" textLength="123.0" lengthAdjust="spacing">MARSEILLE</text>
<circle cx="577.0" cy="1486.9" r="5.6" fill="#000"/>
<text x="678.9" y="1531.5" font-size="21.8" fill="#111" stroke="#111" stroke-width="0.6" textLength="101.4" lengthAdjust="spacing">TOULON</text>
<circle cx="729.0" cy="1544.2" r="5.6" fill="#000"/>
<text x="793.3" y="1365.5" font-size="21.8" fill="#111" stroke="#111" stroke-width="0.6" textLength="157.9" lengthAdjust="spacing">DRAGUIGNAN</text>
<circle cx="900.6" cy="1375.7" r="5.6" fill="#000"/>
<text x="957.6" y="1341.2" font-size="21.8" fill="#111" stroke="#111" stroke-width="0.6" textLength="96.9" lengthAdjust="spacing">CANNES</text>
<circle cx="1016.2" cy="1361.6" r="5.6" fill="#000"/>
<text x="1061.2" y="1286.0" font-size="21.8" fill="#111" stroke="#111" stroke-width="0.6" textLength="54.3" lengthAdjust="spacing">NICE</text>
<circle cx="1098.5" cy="1299.6" r="5.6" fill="#000"/>
<text x="1114.5" y="1190.1" font-size="21.8" fill="#111" stroke="#111" stroke-width="0.6" textLength="100.8" lengthAdjust="spacing">MENTON</text>
<circle cx="1177.0" cy="1197.9" r="5.6" fill="#000"/>
<text x="891.3" y="543.6" font-size="25" font-weight="bold" fill="#111" textLength="252.5" lengthAdjust="spacingAndGlyphs">DAC HAUTES ALPES</text>
<text x="891.3" y="580.5" font-size="25" fill="#e9654f" stroke="#e9654f" stroke-width="0.9" textLength="184.2" lengthAdjust="spacing">04 92 23 41 08</text>
<text x="891.3" y="613.0" font-size="25" fill="#3f66af" stroke="#3f66af" stroke-width="0.9" textLength="234.2" lengthAdjust="spacing">contact@dac05.fr</text>
<text x="891.3" y="645.3" font-size="25" fill="#e9654f" stroke="#e9654f" stroke-width="0.9" textLength="177.2" lengthAdjust="spacing">www.dac05.fr</text>
<text x="209.6" y="710.9" font-size="25" font-weight="bold" fill="#111" textLength="472.7" lengthAdjust="spacingAndGlyphs">DAC RESSOURCES SANTE VAUCLUSE</text>
<text x="209.6" y="744.2" font-size="25" fill="#e9654f" stroke="#e9654f" stroke-width="0.9" textLength="173.4" lengthAdjust="spacing">04 84 512 512</text>
<text x="209.6" y="776.9" font-size="25" fill="#3f66af" stroke="#3f66af" stroke-width="0.9" textLength="229.9" lengthAdjust="spacing">contact@rsv84.fr</text>
<text x="209.6" y="809.5" font-size="25" fill="#e9654f" stroke="#e9654f" stroke-width="0.9" textLength="344.4" lengthAdjust="spacing">www.ressources-sante.org</text>
<text x="1174.4" y="762.3" font-size="25" font-weight="bold" fill="#111" textLength="106.9" lengthAdjust="spacingAndGlyphs">DAC C3S</text>
<text x="1174.4" y="794.5" font-size="25" fill="#e9654f" stroke="#e9654f" stroke-width="0.9" textLength="189.5" lengthAdjust="spacing">04 92 00 02 03</text>
<text x="1174.4" y="826.2" font-size="25" fill="#3f66af" stroke="#3f66af" stroke-width="0.9" textLength="254.5" lengthAdjust="spacing">contact@dac-c3s.fr</text>
<text x="1174.4" y="860.4" font-size="25" fill="#e9654f" stroke="#e9654f" stroke-width="0.9" textLength="176.8" lengthAdjust="spacing">www.dac06.fr</text>
<text x="1377.6" y="1046.4" font-size="25" font-weight="bold" fill="#111" textLength="189.5" lengthAdjust="spacingAndGlyphs">DAC EST AZUR</text>
<text x="1377.6" y="1112.0" font-size="25" fill="#3f66af" stroke="#3f66af" stroke-width="0.9" textLength="311.3" lengthAdjust="spacing">contact@dac-estazur.fr</text>
<text x="1377.6" y="1144.7" font-size="25" fill="#e9654f" stroke="#e9654f" stroke-width="0.9" textLength="176.8" lengthAdjust="spacing">www.dac06.fr</text>
<text x="1386.0" y="1078.1" font-size="25" fill="#e9654f" stroke="#e9654f" stroke-width="0.9" textLength="174.7" lengthAdjust="spacing">04 93 85 11 25</text>
<text x="1276.0" y="1358.3" font-size="25" font-weight="bold" fill="#111" textLength="284.7" lengthAdjust="spacingAndGlyphs">DAC CAP AZUR SANTE</text>
<text x="1276.0" y="1390.5" font-size="25" fill="#e9654f" stroke="#e9654f" stroke-width="0.9" textLength="178.2" lengthAdjust="spacing">04 92 91 96 26</text>
<text x="1276.0" y="1424.0" font-size="25" fill="#3f66af" stroke="#3f66af" stroke-width="0.9" textLength="365.1" lengthAdjust="spacing">contact@capazursante.com</text>
<text x="1276.0" y="1457.8" font-size="25" fill="#e9654f" stroke="#e9654f" stroke-width="0.9" textLength="177.0" lengthAdjust="spacing">www.dac06.fr</text>
<text x="1117.0" y="1612.8" font-size="25" font-weight="bold" fill="#111" textLength="169.9" lengthAdjust="spacingAndGlyphs">DAC VAR EST</text>
<text x="1117.0" y="1644.6" font-size="25" fill="#e9654f" stroke="#e9654f" stroke-width="0.9" textLength="196.4" lengthAdjust="spacing">04 94 47 02 02</text>
<text x="1117.0" y="1677.5" font-size="25" fill="#3f66af" stroke="#3f66af" stroke-width="0.9" textLength="299.2" lengthAdjust="spacing">contact@dac-varest.fr</text>
<text x="1117.0" y="1711.0" font-size="25" fill="#e9654f" stroke="#e9654f" stroke-width="0.9" textLength="181.5" lengthAdjust="spacing">www.dac83.fr</text>
<text x="212.3" y="1723.9" font-size="25" font-weight="bold" fill="#111" textLength="294.5" lengthAdjust="spacingAndGlyphs">DAC PROVENCE SANTÉ</text>
<text x="212.3" y="1757.3" font-size="25" font-weight="bold" fill="#111" textLength="203.7" lengthAdjust="spacingAndGlyphs">COORDINATION</text>
<text x="212.3" y="1791.7" font-size="25" fill="#e9654f" stroke="#e9654f" stroke-width="0.9" textLength="188.0" lengthAdjust="spacing">04 42 642 642</text>
<text x="212.3" y="1824.4" font-size="25" fill="#3f66af" stroke="#3f66af" stroke-width="0.9" textLength="370.8" lengthAdjust="spacing">contact@groupement-psc.fr</text>
<text x="212.3" y="1857.6" font-size="25" fill="#e9654f" stroke="#e9654f" stroke-width="0.9" textLength="313.9" lengthAdjust="spacing">www.groupement-psc.fr</text>
<text x="813.2" y="1901.6" font-size="25" font-weight="bold" fill="#111" textLength="209.6" lengthAdjust="spacingAndGlyphs">DAC VAR OUEST</text>
<text x="813.2" y="1934.9" font-size="25" fill="#e9654f" stroke="#e9654f" stroke-width="0.9" textLength="183.4" lengthAdjust="spacing">04 94 35 32 01</text>
<text x="813.2" y="1968.1" font-size="25" fill="#3f66af" stroke="#3f66af" stroke-width="0.9" textLength="328.3" lengthAdjust="spacing">contact@dac-varouest.fr</text>
<text x="813.2" y="2001.8" font-size="25" fill="#e9654f" stroke="#e9654f" stroke-width="0.9" textLength="175.8" lengthAdjust="spacing">www.dac83.fr</text>
<text x="608.1" y="2172.3" font-size="25" font-weight="bold" fill="#111" textLength="146.4" lengthAdjust="spacingAndGlyphs">DAC 13 SUD</text>
<text x="608.1" y="2205.0" font-size="25" fill="#e9654f" stroke="#e9654f" stroke-width="0.9" textLength="197.6" lengthAdjust="spacing">04 65 40 50 00</text>
<text x="608.1" y="2238.4" font-size="25" fill="#3f66af" stroke="#3f66af" stroke-width="0.9" textLength="272.0" lengthAdjust="spacing">contact@dac13sud.fr</text>
<text x="608.1" y="2269.3" font-size="25" fill="#ea6426" stroke="#ea6426" stroke-width="0.9" textLength="225.7" lengthAdjust="spacing">www.dac13sud.fr</text>
<g clip-path="url(#decoRect)"><g clip-path="url(#decoClip)"><path d="M1953.0 2285.0 A290.0 290.0 0 0 1 1663.2 1984.9 L1720.1 1986.9 A233.0 233.0 0 0 0 1953.0 2228.0 Z" fill="#3d62ab"/><path d="M1953.0 2415.0 A420.0 420.0 0 0 1 1533.3 1980.3 L1590.2 1982.3 A363.0 363.0 0 0 0 1953.0 2358.0 Z" fill="#3d62ab"/><path d="M1464.0 1993.0 A160 160 0 0 1 1303.0 2155.0 A217.6 217.6 0 0 1 1464.0 1993.0 Z" fill="#6bbfdc"/><path d="M1524.4 1809.2 A289.0 289.0 0 0 1 1287.9 2283.6 L1291.0 2223.7 A229.0 229.0 0 0 0 1478.4 1847.8 Z" fill="#6bbfdc"/><path d="M1624.0 1725.7 A419.0 419.0 0 0 1 1281.1 2413.4 L1284.4 2350.5 A356.0 356.0 0 0 0 1575.7 1766.2 Z" fill="#6bbfdc"/><path d="M1201.8 2366.9 A296.0 296.0 0 0 1 1594.5 2696.4 L1536.4 2686.2 A237.0 237.0 0 0 0 1221.9 2422.3 Z" fill="#3d62ab"/><path d="M1158.7 2248.4 A422.0 422.0 0 0 1 1718.6 2718.3 L1659.5 2707.9 A362.0 362.0 0 0 0 1179.2 2304.8 Z" fill="#3d62ab"/><path d="M1539.4 2717.9 A420.0 420.0 0 0 1 2025.9 2231.4 L2015.7 2289.5 A361.0 361.0 0 0 0 1597.5 2707.7 Z" fill="#fbb346"/></g>
<path d="M1659.0 1984.0 A275.0 275.0 0 0 1 1957.0 1686.0 L1951.7 1746.8 A214.0 214.0 0 0 0 1719.8 1978.7 Z" fill="#cfebf2" mask="url(#decoOut)"/></g>
</svg>
</body></html>
